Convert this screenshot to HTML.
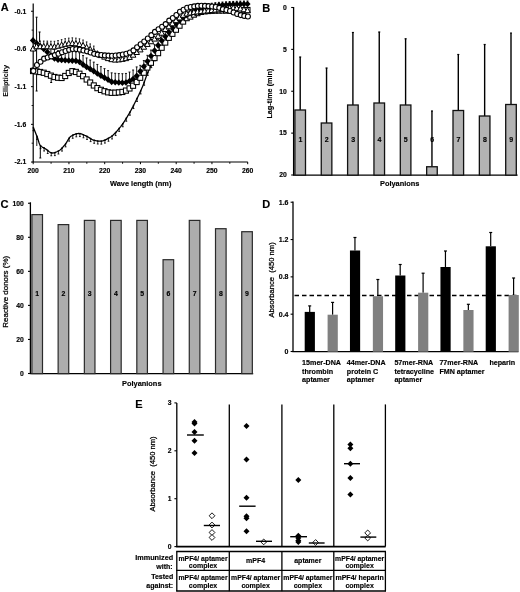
<!DOCTYPE html>
<html><head><meta charset="utf-8"><style>
html,body{margin:0;padding:0;background:#fff;}
svg{display:block;font-family:"Liberation Sans", sans-serif;filter:blur(0.3px);}
text{stroke:#000;stroke-width:0.15px;}
text[font-weight="normal"]{stroke-width:0.26px;}
</style></head><body>
<svg width="520" height="592" viewBox="0 0 520 592">
<rect width="520" height="592" fill="#fff"/>
<text x="0.80" y="11.00" font-size="11" font-weight="bold" text-anchor="start" fill="#000" >A</text>
<line x1="33.20" y1="3.50" x2="33.20" y2="162.00" stroke="#000" stroke-width="1.2" />
<line x1="32.60" y1="162.00" x2="247.80" y2="162.00" stroke="#000" stroke-width="1.2" />
<line x1="31.00" y1="11.25" x2="33.20" y2="11.25" stroke="#000" stroke-width="1.0" />
<text x="26.20" y="13.55" font-size="6.8" font-weight="bold" text-anchor="end" fill="#000" >-0.1</text>
<line x1="31.00" y1="48.95" x2="33.20" y2="48.95" stroke="#000" stroke-width="1.0" />
<text x="26.20" y="51.25" font-size="6.8" font-weight="bold" text-anchor="end" fill="#000" >-0.6</text>
<line x1="31.00" y1="86.65" x2="33.20" y2="86.65" stroke="#000" stroke-width="1.0" />
<text x="26.20" y="88.95" font-size="6.8" font-weight="bold" text-anchor="end" fill="#000" >-1.1</text>
<line x1="31.00" y1="124.35" x2="33.20" y2="124.35" stroke="#000" stroke-width="1.0" />
<text x="26.20" y="126.65" font-size="6.8" font-weight="bold" text-anchor="end" fill="#000" >-1.6</text>
<line x1="31.00" y1="162.05" x2="33.20" y2="162.05" stroke="#000" stroke-width="1.0" />
<text x="26.20" y="164.35" font-size="6.8" font-weight="bold" text-anchor="end" fill="#000" >-2.1</text>
<line x1="31.60" y1="30.10" x2="33.20" y2="30.10" stroke="#000" stroke-width="0.9" />
<line x1="31.60" y1="67.80" x2="33.20" y2="67.80" stroke="#000" stroke-width="0.9" />
<line x1="31.60" y1="105.50" x2="33.20" y2="105.50" stroke="#000" stroke-width="0.9" />
<line x1="31.60" y1="143.20" x2="33.20" y2="143.20" stroke="#000" stroke-width="0.9" />
<line x1="33.20" y1="162.00" x2="33.20" y2="164.20" stroke="#000" stroke-width="1.0" />
<text x="33.20" y="172.80" font-size="6.8" font-weight="bold" text-anchor="middle" fill="#000" >200</text>
<line x1="68.95" y1="162.00" x2="68.95" y2="164.20" stroke="#000" stroke-width="1.0" />
<text x="68.95" y="172.80" font-size="6.8" font-weight="bold" text-anchor="middle" fill="#000" >210</text>
<line x1="104.70" y1="162.00" x2="104.70" y2="164.20" stroke="#000" stroke-width="1.0" />
<text x="104.70" y="172.80" font-size="6.8" font-weight="bold" text-anchor="middle" fill="#000" >220</text>
<line x1="140.45" y1="162.00" x2="140.45" y2="164.20" stroke="#000" stroke-width="1.0" />
<text x="140.45" y="172.80" font-size="6.8" font-weight="bold" text-anchor="middle" fill="#000" >230</text>
<line x1="176.20" y1="162.00" x2="176.20" y2="164.20" stroke="#000" stroke-width="1.0" />
<text x="176.20" y="172.80" font-size="6.8" font-weight="bold" text-anchor="middle" fill="#000" >240</text>
<line x1="211.95" y1="162.00" x2="211.95" y2="164.20" stroke="#000" stroke-width="1.0" />
<text x="211.95" y="172.80" font-size="6.8" font-weight="bold" text-anchor="middle" fill="#000" >250</text>
<line x1="247.70" y1="162.00" x2="247.70" y2="164.20" stroke="#000" stroke-width="1.0" />
<text x="247.70" y="172.80" font-size="6.8" font-weight="bold" text-anchor="middle" fill="#000" >260</text>
<line x1="51.08" y1="162.00" x2="51.08" y2="163.80" stroke="#000" stroke-width="0.9" />
<line x1="86.83" y1="162.00" x2="86.83" y2="163.80" stroke="#000" stroke-width="0.9" />
<line x1="122.58" y1="162.00" x2="122.58" y2="163.80" stroke="#000" stroke-width="0.9" />
<line x1="158.32" y1="162.00" x2="158.32" y2="163.80" stroke="#000" stroke-width="0.9" />
<line x1="194.07" y1="162.00" x2="194.07" y2="163.80" stroke="#000" stroke-width="0.9" />
<line x1="229.82" y1="162.00" x2="229.82" y2="163.80" stroke="#000" stroke-width="0.9" />
<text x="140.70" y="185.60" font-size="7.4" font-weight="bold" text-anchor="middle" fill="#000" textLength="61.4" lengthAdjust="spacingAndGlyphs" >Wave length (nm)</text>
<text transform="translate(8.4,80.9) rotate(-90)" font-size="7.15" font-weight="bold" text-anchor="middle" text-rendering="geometricPrecision" style="stroke-width:0.05px">Ellipticity</text>
<path d="M33.40,127.70 L33.90,128.86 L34.40,130.04 L34.90,131.25 L35.40,132.47 L35.90,133.70 L36.40,134.96 L36.90,136.23 L37.40,137.54 L37.90,139.04 L38.40,140.65 L38.90,142.23 L39.40,143.66 L39.90,144.80 L40.40,145.51 L40.90,146.00 L41.40,146.42 L41.90,146.78 L42.40,147.09 L42.90,147.37 L43.40,147.63 L43.90,147.88 L44.40,148.15 L44.90,148.44 L45.40,148.76 L45.90,149.11 L46.40,149.49 L46.90,149.87 L47.40,150.27 L47.90,150.66 L48.40,151.05 L48.90,151.42 L49.40,151.77 L49.90,152.09 L50.40,152.37 L50.90,152.61 L51.40,152.80 L51.90,152.93 L52.40,152.99 L52.90,152.99 L53.40,152.95 L53.90,152.86 L54.40,152.75 L54.90,152.60 L55.40,152.42 L55.90,152.22 L56.40,152.01 L56.90,151.77 L57.40,151.53 L57.90,151.27 L58.40,151.01 L58.90,150.75 L59.40,150.44 L59.90,150.08 L60.40,149.67 L60.90,149.22 L61.40,148.72 L61.90,148.20 L62.40,147.65 L62.90,147.08 L63.40,146.49 L63.90,145.90 L64.40,145.31 L64.90,144.72 L65.40,144.10 L65.90,143.40 L66.40,142.62 L66.90,141.80 L67.40,140.96 L67.90,140.12 L68.40,139.30 L68.90,138.51 L69.40,137.80 L69.90,137.17 L70.40,136.65 L70.90,136.26 L71.40,135.97 L71.90,135.70 L72.40,135.43 L72.90,135.18 L73.40,134.93 L73.90,134.71 L74.40,134.49 L74.90,134.29 L75.40,134.12 L75.90,133.96 L76.40,133.82 L76.90,133.70 L77.40,133.61 L77.90,133.55 L78.40,133.51 L78.90,133.50 L79.40,133.53 L79.90,133.59 L80.40,133.69 L80.90,133.82 L81.40,133.97 L81.90,134.15 L82.40,134.34 L82.90,134.55 L83.40,134.77 L83.90,135.00 L84.40,135.24 L84.90,135.47 L85.40,135.71 L85.90,135.94 L86.40,136.16 L86.90,136.38 L87.40,136.63 L87.90,136.91 L88.40,137.20 L88.90,137.51 L89.40,137.83 L89.90,138.15 L90.40,138.47 L90.90,138.78 L91.40,139.09 L91.90,139.37 L92.40,139.63 L92.90,139.86 L93.40,140.06 L93.90,140.22 L94.40,140.35 L94.90,140.46 L95.40,140.57 L95.90,140.67 L96.40,140.77 L96.90,140.86 L97.40,140.95 L97.90,141.02 L98.40,141.08 L98.90,141.14 L99.40,141.17 L99.90,141.19 L100.40,141.20 L100.90,141.18 L101.40,141.13 L101.90,141.05 L102.40,140.94 L102.90,140.81 L103.40,140.66 L103.90,140.48 L104.40,140.29 L104.90,140.08 L105.40,139.85 L105.90,139.61 L106.40,139.36 L106.90,139.10 L107.40,138.83 L107.90,138.55 L108.40,138.27 L108.90,137.99 L109.40,137.70 L109.90,137.41 L110.40,137.12 L110.90,136.81 L111.40,136.46 L111.90,136.08 L112.40,135.68 L112.90,135.25 L113.40,134.80 L113.90,134.33 L114.40,133.83 L114.90,133.32 L115.40,132.80 L115.90,132.25 L116.40,131.70 L116.90,131.13 L117.40,130.55 L117.90,129.96 L118.40,129.37 L118.90,128.77 L119.40,128.17 L119.90,127.56 L120.40,126.96 L120.90,126.33 L121.40,125.67 L121.90,125.00 L122.40,124.30 L122.90,123.59 L123.40,122.85 L123.90,122.10 L124.40,121.33 L124.90,120.55 L125.40,119.76 L125.90,118.96 L126.40,118.15 L126.90,117.33 L127.40,116.50 L127.90,115.67 L128.40,114.83 L128.90,113.99 L129.40,113.12 L129.90,112.24 L130.40,111.35 L130.90,110.44 L131.40,109.52 L131.90,108.59 L132.40,107.65 L132.90,106.69 L133.40,105.73 L133.90,104.76 L134.40,103.78 L134.90,102.79 L135.40,101.80 L135.90,100.80 L136.40,99.80 L136.90,98.79 L137.40,97.78 L137.90,96.76 L138.40,95.73 L138.90,94.69 L139.40,93.63 L139.90,92.57 L140.40,91.48 L140.90,90.38 L141.40,89.25 L141.90,88.11 L142.40,86.94 L142.90,85.73 L143.40,84.45 L143.90,83.12 L144.40,81.75 L144.90,80.36 L145.40,78.95 L145.90,77.54 L146.40,76.15 L146.90,74.78 L147.40,73.45 L147.90,72.17 L148.40,70.96 L148.90,69.82 L149.40,68.72 L149.90,67.64 L150.40,66.60 L150.90,65.58 L151.40,64.58 L151.90,63.60 L152.40,62.63 L152.90,61.68 L153.40,60.73 L153.90,59.79 L154.40,58.86 L154.90,57.93 L155.40,56.99 L155.90,56.06 L156.40,55.13 L156.90,54.20 L157.40,53.28 L157.90,52.37 L158.40,51.46 L158.90,50.57 L159.40,49.69 L159.90,48.83 L160.40,47.98 L160.90,47.15 L161.40,46.34 L161.90,45.56 L162.40,44.79 L162.90,44.05 L163.40,43.34 L163.90,42.65 L164.40,41.97 L164.90,41.31 L165.40,40.67 L165.90,40.04 L166.40,39.42 L166.90,38.81 L167.40,38.21 L167.90,37.61 L168.40,37.01 L168.90,36.41 L169.40,35.82 L169.90,35.22 L170.40,34.61 L170.90,34.00 L171.40,33.38 L171.90,32.75 L172.40,32.11 L172.90,31.47 L173.40,30.82 L173.90,30.18 L174.40,29.53 L174.90,28.89 L175.40,28.26 L175.90,27.63 L176.40,27.01 L176.90,26.40 L177.40,25.81 L177.90,25.23 L178.40,24.66 L178.90,24.12 L179.40,23.60 L179.90,23.10 L180.40,22.62 L180.90,22.14 L181.40,21.67 L181.90,21.21 L182.40,20.75 L182.90,20.30 L183.40,19.86 L183.90,19.43 L184.40,19.01 L184.90,18.59 L185.40,18.19 L185.90,17.80 L186.40,17.41 L186.90,17.04 L187.40,16.68 L187.90,16.33 L188.40,15.99 L188.90,15.67 L189.40,15.36 L189.90,15.06 L190.40,14.77 L190.90,14.48 L191.40,14.20 L191.90,13.92 L192.40,13.64 L192.90,13.37 L193.40,13.10 L193.90,12.84 L194.40,12.59 L194.90,12.34 L195.40,12.11 L195.90,11.88 L196.40,11.67 L196.90,11.46 L197.40,11.27 L197.90,11.09 L198.40,10.93 L198.90,10.78 L199.40,10.64 L199.90,10.52 L200.40,10.42 L200.90,10.31 L201.40,10.21 L201.90,10.11 L202.40,10.01 L202.90,9.92 L203.40,9.82 L203.90,9.73 L204.40,9.64 L204.90,9.56 L205.40,9.47 L205.90,9.39 L206.40,9.32 L206.90,9.24 L207.40,9.17 L207.90,9.10 L208.40,9.04 L208.90,8.97 L209.40,8.91 L209.90,8.86 L210.40,8.81 L210.90,8.76 L211.40,8.71 L211.90,8.67 L212.40,8.63 L212.90,8.60 L213.40,8.57 L213.90,8.54 L214.40,8.52 L214.90,8.50 L215.40,8.49 L215.90,8.47 L216.40,8.46 L216.90,8.44 L217.40,8.43 L217.90,8.42 L218.40,8.40 L218.90,8.39 L219.40,8.38 L219.90,8.36 L220.40,8.35 L220.90,8.34 L221.40,8.33 L221.90,8.32 L222.40,8.30 L222.90,8.29 L223.40,8.28 L223.90,8.27 L224.40,8.26 L224.90,8.25 L225.40,8.24 L225.90,8.23 L226.40,8.22 L226.90,8.21 L227.40,8.20 L227.90,8.19 L228.40,8.18 L228.90,8.17 L229.40,8.16 L229.90,8.15 L230.40,8.15 L230.90,8.14 L231.40,8.13 L231.90,8.12 L232.40,8.12 L232.90,8.11 L233.40,8.10 L233.90,8.09 L234.40,8.09 L234.90,8.08 L235.40,8.08 L235.90,8.07 L236.40,8.07 L236.90,8.06 L237.40,8.05 L237.90,8.05 L238.40,8.05 L238.90,8.04 L239.40,8.04 L239.90,8.03 L240.40,8.03 L240.90,8.03 L241.40,8.02 L241.90,8.02 L242.40,8.02 L242.90,8.01 L243.40,8.01 L243.90,8.01 L244.40,8.01 L244.90,8.01 L245.40,8.00 L245.90,8.00 L246.40,8.00 L246.90,8.00 L247.40,8.00 L247.90,8.00 L248.40,8.00" fill="none" stroke="#000" stroke-width="1.3"/>
<line x1="33.40" y1="127.70" x2="33.40" y2="130.70" stroke="#000" stroke-width="0.8" />
<line x1="32.50" y1="130.70" x2="34.30" y2="130.70" stroke="#000" stroke-width="0.9" />
<rect x="32.70" y="127.00" width="1.4" height="1.4" fill="#000"/>
<line x1="36.98" y1="136.42" x2="36.98" y2="139.42" stroke="#000" stroke-width="0.8" />
<line x1="36.08" y1="139.42" x2="37.88" y2="139.42" stroke="#000" stroke-width="0.9" />
<rect x="36.27" y="135.72" width="1.4" height="1.4" fill="#000"/>
<line x1="40.55" y1="145.67" x2="40.55" y2="148.67" stroke="#000" stroke-width="0.8" />
<line x1="39.65" y1="148.67" x2="41.45" y2="148.67" stroke="#000" stroke-width="0.9" />
<rect x="39.85" y="144.97" width="1.4" height="1.4" fill="#000"/>
<line x1="44.13" y1="148.00" x2="44.13" y2="151.00" stroke="#000" stroke-width="0.8" />
<line x1="43.23" y1="151.00" x2="45.03" y2="151.00" stroke="#000" stroke-width="0.9" />
<rect x="43.43" y="147.30" width="1.4" height="1.4" fill="#000"/>
<line x1="47.70" y1="150.50" x2="47.70" y2="153.50" stroke="#000" stroke-width="0.8" />
<line x1="46.80" y1="153.50" x2="48.60" y2="153.50" stroke="#000" stroke-width="0.9" />
<rect x="47.00" y="149.80" width="1.4" height="1.4" fill="#000"/>
<line x1="51.28" y1="152.76" x2="51.28" y2="155.76" stroke="#000" stroke-width="0.8" />
<line x1="50.38" y1="155.76" x2="52.18" y2="155.76" stroke="#000" stroke-width="0.9" />
<rect x="50.58" y="152.06" width="1.4" height="1.4" fill="#000"/>
<line x1="54.85" y1="152.61" x2="54.85" y2="155.61" stroke="#000" stroke-width="0.8" />
<line x1="53.95" y1="155.61" x2="55.75" y2="155.61" stroke="#000" stroke-width="0.9" />
<rect x="54.15" y="151.91" width="1.4" height="1.4" fill="#000"/>
<line x1="58.43" y1="151.00" x2="58.43" y2="154.00" stroke="#000" stroke-width="0.8" />
<line x1="57.53" y1="154.00" x2="59.33" y2="154.00" stroke="#000" stroke-width="0.9" />
<rect x="57.73" y="150.30" width="1.4" height="1.4" fill="#000"/>
<line x1="62.00" y1="148.09" x2="62.00" y2="151.09" stroke="#000" stroke-width="0.8" />
<line x1="61.10" y1="151.09" x2="62.90" y2="151.09" stroke="#000" stroke-width="0.9" />
<rect x="61.30" y="147.39" width="1.4" height="1.4" fill="#000"/>
<line x1="65.58" y1="143.86" x2="65.58" y2="146.86" stroke="#000" stroke-width="0.8" />
<line x1="64.68" y1="146.86" x2="66.48" y2="146.86" stroke="#000" stroke-width="0.9" />
<rect x="64.88" y="143.16" width="1.4" height="1.4" fill="#000"/>
<line x1="69.15" y1="138.15" x2="69.15" y2="141.15" stroke="#000" stroke-width="0.8" />
<line x1="68.25" y1="141.15" x2="70.05" y2="141.15" stroke="#000" stroke-width="0.9" />
<rect x="68.45" y="137.45" width="1.4" height="1.4" fill="#000"/>
<line x1="72.73" y1="135.27" x2="72.73" y2="138.27" stroke="#000" stroke-width="0.8" />
<line x1="71.83" y1="138.27" x2="73.63" y2="138.27" stroke="#000" stroke-width="0.9" />
<rect x="72.03" y="134.57" width="1.4" height="1.4" fill="#000"/>
<line x1="76.30" y1="133.84" x2="76.30" y2="136.84" stroke="#000" stroke-width="0.8" />
<line x1="75.40" y1="136.84" x2="77.20" y2="136.84" stroke="#000" stroke-width="0.9" />
<rect x="75.60" y="133.14" width="1.4" height="1.4" fill="#000"/>
<line x1="79.88" y1="133.59" x2="79.88" y2="136.59" stroke="#000" stroke-width="0.8" />
<line x1="78.98" y1="136.59" x2="80.78" y2="136.59" stroke="#000" stroke-width="0.9" />
<rect x="79.18" y="132.89" width="1.4" height="1.4" fill="#000"/>
<line x1="83.45" y1="134.79" x2="83.45" y2="137.79" stroke="#000" stroke-width="0.8" />
<line x1="82.55" y1="137.79" x2="84.35" y2="137.79" stroke="#000" stroke-width="0.9" />
<rect x="82.75" y="134.09" width="1.4" height="1.4" fill="#000"/>
<line x1="87.03" y1="136.44" x2="87.03" y2="139.44" stroke="#000" stroke-width="0.8" />
<line x1="86.13" y1="139.44" x2="87.93" y2="139.44" stroke="#000" stroke-width="0.9" />
<rect x="86.33" y="135.74" width="1.4" height="1.4" fill="#000"/>
<line x1="90.60" y1="138.60" x2="90.60" y2="141.60" stroke="#000" stroke-width="0.8" />
<line x1="89.70" y1="141.60" x2="91.50" y2="141.60" stroke="#000" stroke-width="0.9" />
<rect x="89.90" y="137.90" width="1.4" height="1.4" fill="#000"/>
<line x1="94.18" y1="140.29" x2="94.18" y2="143.29" stroke="#000" stroke-width="0.8" />
<line x1="93.28" y1="143.29" x2="95.08" y2="143.29" stroke="#000" stroke-width="0.9" />
<rect x="93.48" y="139.59" width="1.4" height="1.4" fill="#000"/>
<line x1="97.75" y1="141.00" x2="97.75" y2="144.00" stroke="#000" stroke-width="0.8" />
<line x1="96.85" y1="144.00" x2="98.65" y2="144.00" stroke="#000" stroke-width="0.9" />
<rect x="97.05" y="140.30" width="1.4" height="1.4" fill="#000"/>
<line x1="101.33" y1="141.14" x2="101.33" y2="144.14" stroke="#000" stroke-width="0.8" />
<line x1="100.43" y1="144.14" x2="102.23" y2="144.14" stroke="#000" stroke-width="0.9" />
<rect x="100.63" y="140.44" width="1.4" height="1.4" fill="#000"/>
<line x1="104.90" y1="140.08" x2="104.90" y2="143.08" stroke="#000" stroke-width="0.8" />
<line x1="104.00" y1="143.08" x2="105.80" y2="143.08" stroke="#000" stroke-width="0.9" />
<rect x="104.20" y="139.38" width="1.4" height="1.4" fill="#000"/>
<line x1="108.48" y1="138.23" x2="108.48" y2="141.23" stroke="#000" stroke-width="0.8" />
<line x1="107.58" y1="141.23" x2="109.38" y2="141.23" stroke="#000" stroke-width="0.9" />
<rect x="107.78" y="137.53" width="1.4" height="1.4" fill="#000"/>
<line x1="112.05" y1="135.96" x2="112.05" y2="138.96" stroke="#000" stroke-width="0.8" />
<line x1="111.15" y1="138.96" x2="112.95" y2="138.96" stroke="#000" stroke-width="0.9" />
<rect x="111.35" y="135.26" width="1.4" height="1.4" fill="#000"/>
<line x1="115.63" y1="132.55" x2="115.63" y2="135.55" stroke="#000" stroke-width="0.8" />
<line x1="114.73" y1="135.55" x2="116.53" y2="135.55" stroke="#000" stroke-width="0.9" />
<rect x="114.93" y="131.85" width="1.4" height="1.4" fill="#000"/>
<line x1="119.20" y1="128.41" x2="119.20" y2="131.41" stroke="#000" stroke-width="0.8" />
<line x1="118.30" y1="131.41" x2="120.10" y2="131.41" stroke="#000" stroke-width="0.9" />
<rect x="118.50" y="127.71" width="1.4" height="1.4" fill="#000"/>
<line x1="122.78" y1="123.77" x2="122.78" y2="126.77" stroke="#000" stroke-width="0.8" />
<line x1="121.88" y1="126.77" x2="123.68" y2="126.77" stroke="#000" stroke-width="0.9" />
<rect x="122.08" y="123.07" width="1.4" height="1.4" fill="#000"/>
<line x1="126.35" y1="118.23" x2="126.35" y2="121.23" stroke="#000" stroke-width="0.8" />
<line x1="125.45" y1="121.23" x2="127.25" y2="121.23" stroke="#000" stroke-width="0.9" />
<rect x="125.65" y="117.53" width="1.4" height="1.4" fill="#000"/>
<line x1="129.93" y1="112.20" x2="129.93" y2="115.20" stroke="#000" stroke-width="0.8" />
<line x1="129.03" y1="115.20" x2="130.83" y2="115.20" stroke="#000" stroke-width="0.9" />
<rect x="129.23" y="111.50" width="1.4" height="1.4" fill="#000"/>
<line x1="133.50" y1="105.54" x2="133.50" y2="108.54" stroke="#000" stroke-width="0.8" />
<line x1="132.60" y1="108.54" x2="134.40" y2="108.54" stroke="#000" stroke-width="0.9" />
<rect x="132.80" y="104.84" width="1.4" height="1.4" fill="#000"/>
<line x1="137.08" y1="98.44" x2="137.08" y2="101.44" stroke="#000" stroke-width="0.8" />
<line x1="136.18" y1="101.44" x2="137.98" y2="101.44" stroke="#000" stroke-width="0.9" />
<rect x="136.38" y="97.74" width="1.4" height="1.4" fill="#000"/>
<line x1="140.65" y1="90.93" x2="140.65" y2="93.93" stroke="#000" stroke-width="0.8" />
<line x1="139.75" y1="93.93" x2="141.55" y2="93.93" stroke="#000" stroke-width="0.9" />
<rect x="139.95" y="90.23" width="1.4" height="1.4" fill="#000"/>
<line x1="144.23" y1="82.24" x2="144.23" y2="85.24" stroke="#000" stroke-width="0.8" />
<line x1="143.33" y1="85.24" x2="145.13" y2="85.24" stroke="#000" stroke-width="0.9" />
<rect x="143.53" y="81.54" width="1.4" height="1.4" fill="#000"/>
<line x1="147.80" y1="72.42" x2="147.80" y2="75.42" stroke="#000" stroke-width="0.8" />
<line x1="146.90" y1="75.42" x2="148.70" y2="75.42" stroke="#000" stroke-width="0.9" />
<rect x="147.10" y="71.72" width="1.4" height="1.4" fill="#000"/>
<line x1="151.38" y1="64.63" x2="151.38" y2="67.63" stroke="#000" stroke-width="0.8" />
<line x1="150.48" y1="67.63" x2="152.28" y2="67.63" stroke="#000" stroke-width="0.9" />
<rect x="150.68" y="63.93" width="1.4" height="1.4" fill="#000"/>
<line x1="154.95" y1="57.83" x2="154.95" y2="60.83" stroke="#000" stroke-width="0.8" />
<line x1="154.05" y1="60.83" x2="155.85" y2="60.83" stroke="#000" stroke-width="0.9" />
<rect x="154.25" y="57.13" width="1.4" height="1.4" fill="#000"/>
<line x1="158.53" y1="51.24" x2="158.53" y2="54.24" stroke="#000" stroke-width="0.8" />
<line x1="157.63" y1="54.24" x2="159.43" y2="54.24" stroke="#000" stroke-width="0.9" />
<rect x="157.83" y="50.54" width="1.4" height="1.4" fill="#000"/>
<line x1="162.10" y1="45.25" x2="162.10" y2="48.25" stroke="#000" stroke-width="0.8" />
<line x1="161.20" y1="48.25" x2="163.00" y2="48.25" stroke="#000" stroke-width="0.9" />
<rect x="161.40" y="44.55" width="1.4" height="1.4" fill="#000"/>
<line x1="165.68" y1="40.32" x2="165.68" y2="43.32" stroke="#000" stroke-width="0.8" />
<line x1="164.78" y1="43.32" x2="166.58" y2="43.32" stroke="#000" stroke-width="0.9" />
<rect x="164.98" y="39.62" width="1.4" height="1.4" fill="#000"/>
<line x1="169.25" y1="36.00" x2="169.25" y2="39.00" stroke="#000" stroke-width="0.8" />
<line x1="168.35" y1="39.00" x2="170.15" y2="39.00" stroke="#000" stroke-width="0.9" />
<rect x="168.55" y="35.30" width="1.4" height="1.4" fill="#000"/>
<line x1="172.83" y1="31.56" x2="172.83" y2="34.56" stroke="#000" stroke-width="0.8" />
<line x1="171.93" y1="34.56" x2="173.73" y2="34.56" stroke="#000" stroke-width="0.9" />
<rect x="172.13" y="30.86" width="1.4" height="1.4" fill="#000"/>
<line x1="176.40" y1="27.01" x2="176.40" y2="30.01" stroke="#000" stroke-width="0.8" />
<line x1="175.50" y1="30.01" x2="177.30" y2="30.01" stroke="#000" stroke-width="0.9" />
<rect x="175.70" y="26.31" width="1.4" height="1.4" fill="#000"/>
<line x1="179.98" y1="23.02" x2="179.98" y2="26.02" stroke="#000" stroke-width="0.8" />
<line x1="179.08" y1="26.02" x2="180.88" y2="26.02" stroke="#000" stroke-width="0.9" />
<rect x="179.28" y="22.32" width="1.4" height="1.4" fill="#000"/>
<line x1="183.55" y1="19.73" x2="183.55" y2="22.73" stroke="#000" stroke-width="0.8" />
<line x1="182.65" y1="22.73" x2="184.45" y2="22.73" stroke="#000" stroke-width="0.9" />
<rect x="182.85" y="19.03" width="1.4" height="1.4" fill="#000"/>
<line x1="187.13" y1="16.88" x2="187.13" y2="19.88" stroke="#000" stroke-width="0.8" />
<line x1="186.23" y1="19.88" x2="188.03" y2="19.88" stroke="#000" stroke-width="0.9" />
<rect x="186.43" y="16.18" width="1.4" height="1.4" fill="#000"/>
<line x1="190.70" y1="14.60" x2="190.70" y2="17.60" stroke="#000" stroke-width="0.8" />
<line x1="189.80" y1="17.60" x2="191.60" y2="17.60" stroke="#000" stroke-width="0.9" />
<rect x="190.00" y="13.90" width="1.4" height="1.4" fill="#000"/>
<line x1="194.28" y1="12.65" x2="194.28" y2="15.65" stroke="#000" stroke-width="0.8" />
<line x1="193.38" y1="15.65" x2="195.18" y2="15.65" stroke="#000" stroke-width="0.9" />
<rect x="193.58" y="11.95" width="1.4" height="1.4" fill="#000"/>
<line x1="197.85" y1="11.11" x2="197.85" y2="14.11" stroke="#000" stroke-width="0.8" />
<line x1="196.95" y1="14.11" x2="198.75" y2="14.11" stroke="#000" stroke-width="0.9" />
<rect x="197.15" y="10.41" width="1.4" height="1.4" fill="#000"/>
<line x1="201.43" y1="10.20" x2="201.43" y2="13.20" stroke="#000" stroke-width="0.8" />
<line x1="200.53" y1="13.20" x2="202.33" y2="13.20" stroke="#000" stroke-width="0.9" />
<rect x="200.73" y="9.50" width="1.4" height="1.4" fill="#000"/>
<line x1="205.00" y1="9.54" x2="205.00" y2="12.54" stroke="#000" stroke-width="0.8" />
<line x1="204.10" y1="12.54" x2="205.90" y2="12.54" stroke="#000" stroke-width="0.9" />
<rect x="204.30" y="8.84" width="1.4" height="1.4" fill="#000"/>
<line x1="208.58" y1="9.01" x2="208.58" y2="12.01" stroke="#000" stroke-width="0.8" />
<line x1="207.68" y1="12.01" x2="209.48" y2="12.01" stroke="#000" stroke-width="0.9" />
<rect x="207.88" y="8.31" width="1.4" height="1.4" fill="#000"/>
<line x1="212.15" y1="8.65" x2="212.15" y2="11.65" stroke="#000" stroke-width="0.8" />
<line x1="211.25" y1="11.65" x2="213.05" y2="11.65" stroke="#000" stroke-width="0.9" />
<rect x="211.45" y="7.95" width="1.4" height="1.4" fill="#000"/>
<line x1="215.73" y1="8.48" x2="215.73" y2="11.48" stroke="#000" stroke-width="0.8" />
<line x1="214.83" y1="11.48" x2="216.63" y2="11.48" stroke="#000" stroke-width="0.9" />
<rect x="215.03" y="7.78" width="1.4" height="1.4" fill="#000"/>
<line x1="219.30" y1="8.38" x2="219.30" y2="11.38" stroke="#000" stroke-width="0.8" />
<line x1="218.40" y1="11.38" x2="220.20" y2="11.38" stroke="#000" stroke-width="0.9" />
<rect x="218.60" y="7.68" width="1.4" height="1.4" fill="#000"/>
<line x1="222.88" y1="8.29" x2="222.88" y2="11.29" stroke="#000" stroke-width="0.8" />
<line x1="221.98" y1="11.29" x2="223.78" y2="11.29" stroke="#000" stroke-width="0.9" />
<rect x="222.18" y="7.59" width="1.4" height="1.4" fill="#000"/>
<line x1="226.45" y1="8.22" x2="226.45" y2="11.22" stroke="#000" stroke-width="0.8" />
<line x1="225.55" y1="11.22" x2="227.35" y2="11.22" stroke="#000" stroke-width="0.9" />
<rect x="225.75" y="7.52" width="1.4" height="1.4" fill="#000"/>
<line x1="230.03" y1="8.15" x2="230.03" y2="11.15" stroke="#000" stroke-width="0.8" />
<line x1="229.13" y1="11.15" x2="230.93" y2="11.15" stroke="#000" stroke-width="0.9" />
<rect x="229.33" y="7.45" width="1.4" height="1.4" fill="#000"/>
<line x1="233.60" y1="8.10" x2="233.60" y2="11.10" stroke="#000" stroke-width="0.8" />
<line x1="232.70" y1="11.10" x2="234.50" y2="11.10" stroke="#000" stroke-width="0.9" />
<rect x="232.90" y="7.40" width="1.4" height="1.4" fill="#000"/>
<line x1="237.18" y1="8.06" x2="237.18" y2="11.06" stroke="#000" stroke-width="0.8" />
<line x1="236.28" y1="11.06" x2="238.08" y2="11.06" stroke="#000" stroke-width="0.9" />
<rect x="236.48" y="7.36" width="1.4" height="1.4" fill="#000"/>
<line x1="240.75" y1="8.03" x2="240.75" y2="11.03" stroke="#000" stroke-width="0.8" />
<line x1="239.85" y1="11.03" x2="241.65" y2="11.03" stroke="#000" stroke-width="0.9" />
<rect x="240.05" y="7.33" width="1.4" height="1.4" fill="#000"/>
<line x1="244.33" y1="8.01" x2="244.33" y2="11.01" stroke="#000" stroke-width="0.8" />
<line x1="243.43" y1="11.01" x2="245.23" y2="11.01" stroke="#000" stroke-width="0.9" />
<rect x="243.63" y="7.31" width="1.4" height="1.4" fill="#000"/>
<line x1="247.90" y1="8.00" x2="247.90" y2="11.00" stroke="#000" stroke-width="0.8" />
<line x1="247.00" y1="11.00" x2="248.80" y2="11.00" stroke="#000" stroke-width="0.9" />
<rect x="247.20" y="7.30" width="1.4" height="1.4" fill="#000"/>
<line x1="36.80" y1="137.00" x2="36.80" y2="146.00" stroke="#000" stroke-width="0.9" />
<line x1="40.30" y1="145.00" x2="40.30" y2="158.00" stroke="#000" stroke-width="1.0" />
<line x1="39.30" y1="158.00" x2="41.30" y2="158.00" stroke="#000" stroke-width="0.9" />
<line x1="47.30" y1="52.05" x2="47.30" y2="43.05" stroke="#000" stroke-width="0.9" />
<line x1="46.30" y1="43.05" x2="48.30" y2="43.05" stroke="#000" stroke-width="0.9" />
<line x1="50.88" y1="55.58" x2="50.88" y2="46.58" stroke="#000" stroke-width="0.9" />
<line x1="49.88" y1="46.58" x2="51.88" y2="46.58" stroke="#000" stroke-width="0.9" />
<line x1="54.45" y1="58.50" x2="54.45" y2="49.50" stroke="#000" stroke-width="0.9" />
<line x1="53.45" y1="49.50" x2="55.45" y2="49.50" stroke="#000" stroke-width="0.9" />
<line x1="58.03" y1="59.71" x2="58.03" y2="50.71" stroke="#000" stroke-width="0.9" />
<line x1="57.03" y1="50.71" x2="59.03" y2="50.71" stroke="#000" stroke-width="0.9" />
<line x1="61.60" y1="60.06" x2="61.60" y2="51.06" stroke="#000" stroke-width="0.9" />
<line x1="60.60" y1="51.06" x2="62.60" y2="51.06" stroke="#000" stroke-width="0.9" />
<line x1="65.18" y1="60.28" x2="65.18" y2="51.28" stroke="#000" stroke-width="0.9" />
<line x1="64.18" y1="51.28" x2="66.18" y2="51.28" stroke="#000" stroke-width="0.9" />
<line x1="68.75" y1="60.50" x2="68.75" y2="51.50" stroke="#000" stroke-width="0.9" />
<line x1="67.75" y1="51.50" x2="69.75" y2="51.50" stroke="#000" stroke-width="0.9" />
<line x1="72.33" y1="60.65" x2="72.33" y2="51.65" stroke="#000" stroke-width="0.9" />
<line x1="71.33" y1="51.65" x2="73.33" y2="51.65" stroke="#000" stroke-width="0.9" />
<line x1="75.90" y1="60.87" x2="75.90" y2="51.87" stroke="#000" stroke-width="0.9" />
<line x1="74.90" y1="51.87" x2="76.90" y2="51.87" stroke="#000" stroke-width="0.9" />
<line x1="79.48" y1="61.87" x2="79.48" y2="52.87" stroke="#000" stroke-width="0.9" />
<line x1="78.48" y1="52.87" x2="80.48" y2="52.87" stroke="#000" stroke-width="0.9" />
<line x1="83.05" y1="64.59" x2="83.05" y2="55.59" stroke="#000" stroke-width="0.9" />
<line x1="82.05" y1="55.59" x2="84.05" y2="55.59" stroke="#000" stroke-width="0.9" />
<line x1="86.63" y1="66.96" x2="86.63" y2="57.96" stroke="#000" stroke-width="0.9" />
<line x1="85.63" y1="57.96" x2="87.63" y2="57.96" stroke="#000" stroke-width="0.9" />
<line x1="90.20" y1="69.00" x2="90.20" y2="60.00" stroke="#000" stroke-width="0.9" />
<line x1="89.20" y1="60.00" x2="91.20" y2="60.00" stroke="#000" stroke-width="0.9" />
<line x1="93.78" y1="71.13" x2="93.78" y2="62.13" stroke="#000" stroke-width="0.9" />
<line x1="92.78" y1="62.13" x2="94.78" y2="62.13" stroke="#000" stroke-width="0.9" />
<line x1="97.35" y1="73.44" x2="97.35" y2="64.44" stroke="#000" stroke-width="0.9" />
<line x1="96.35" y1="64.44" x2="98.35" y2="64.44" stroke="#000" stroke-width="0.9" />
<line x1="100.93" y1="75.64" x2="100.93" y2="66.64" stroke="#000" stroke-width="0.9" />
<line x1="99.93" y1="66.64" x2="101.93" y2="66.64" stroke="#000" stroke-width="0.9" />
<line x1="104.50" y1="77.65" x2="104.50" y2="68.65" stroke="#000" stroke-width="0.9" />
<line x1="103.50" y1="68.65" x2="105.50" y2="68.65" stroke="#000" stroke-width="0.9" />
<line x1="108.08" y1="79.64" x2="108.08" y2="70.64" stroke="#000" stroke-width="0.9" />
<line x1="107.08" y1="70.64" x2="109.08" y2="70.64" stroke="#000" stroke-width="0.9" />
<line x1="111.65" y1="81.83" x2="111.65" y2="72.83" stroke="#000" stroke-width="0.9" />
<line x1="110.65" y1="72.83" x2="112.65" y2="72.83" stroke="#000" stroke-width="0.9" />
<line x1="115.23" y1="82.28" x2="115.23" y2="73.28" stroke="#000" stroke-width="0.9" />
<line x1="114.23" y1="73.28" x2="116.23" y2="73.28" stroke="#000" stroke-width="0.9" />
<line x1="118.80" y1="82.56" x2="118.80" y2="73.56" stroke="#000" stroke-width="0.9" />
<line x1="117.80" y1="73.56" x2="119.80" y2="73.56" stroke="#000" stroke-width="0.9" />
<line x1="122.38" y1="82.69" x2="122.38" y2="73.69" stroke="#000" stroke-width="0.9" />
<line x1="121.38" y1="73.69" x2="123.38" y2="73.69" stroke="#000" stroke-width="0.9" />
<line x1="125.95" y1="82.44" x2="125.95" y2="73.44" stroke="#000" stroke-width="0.9" />
<line x1="124.95" y1="73.44" x2="126.95" y2="73.44" stroke="#000" stroke-width="0.9" />
<line x1="129.53" y1="81.06" x2="129.53" y2="72.06" stroke="#000" stroke-width="0.9" />
<line x1="128.53" y1="72.06" x2="130.53" y2="72.06" stroke="#000" stroke-width="0.9" />
<line x1="133.10" y1="79.00" x2="133.10" y2="70.00" stroke="#000" stroke-width="0.9" />
<line x1="132.10" y1="70.00" x2="134.10" y2="70.00" stroke="#000" stroke-width="0.9" />
<line x1="136.68" y1="75.92" x2="136.68" y2="66.92" stroke="#000" stroke-width="0.9" />
<line x1="135.68" y1="66.92" x2="137.68" y2="66.92" stroke="#000" stroke-width="0.9" />
<line x1="140.25" y1="71.34" x2="140.25" y2="65.34" stroke="#000" stroke-width="0.9" />
<line x1="139.25" y1="65.34" x2="141.25" y2="65.34" stroke="#000" stroke-width="0.9" />
<line x1="143.83" y1="66.55" x2="143.83" y2="60.55" stroke="#000" stroke-width="0.9" />
<line x1="142.83" y1="60.55" x2="144.83" y2="60.55" stroke="#000" stroke-width="0.9" />
<line x1="147.40" y1="61.34" x2="147.40" y2="55.34" stroke="#000" stroke-width="0.9" />
<line x1="146.40" y1="55.34" x2="148.40" y2="55.34" stroke="#000" stroke-width="0.9" />
<line x1="150.98" y1="56.07" x2="150.98" y2="50.07" stroke="#000" stroke-width="0.9" />
<line x1="149.98" y1="50.07" x2="151.98" y2="50.07" stroke="#000" stroke-width="0.9" />
<line x1="154.55" y1="50.61" x2="154.55" y2="44.61" stroke="#000" stroke-width="0.9" />
<line x1="153.55" y1="44.61" x2="155.55" y2="44.61" stroke="#000" stroke-width="0.9" />
<line x1="158.13" y1="45.36" x2="158.13" y2="39.36" stroke="#000" stroke-width="0.9" />
<line x1="157.13" y1="39.36" x2="159.13" y2="39.36" stroke="#000" stroke-width="0.9" />
<line x1="161.70" y1="40.72" x2="161.70" y2="34.72" stroke="#000" stroke-width="0.9" />
<line x1="160.70" y1="34.72" x2="162.70" y2="34.72" stroke="#000" stroke-width="0.9" />
<line x1="165.28" y1="36.49" x2="165.28" y2="30.49" stroke="#000" stroke-width="0.9" />
<line x1="164.28" y1="30.49" x2="166.28" y2="30.49" stroke="#000" stroke-width="0.9" />
<line x1="168.85" y1="32.33" x2="168.85" y2="26.33" stroke="#000" stroke-width="0.9" />
<line x1="167.85" y1="26.33" x2="169.85" y2="26.33" stroke="#000" stroke-width="0.9" />
<line x1="172.43" y1="28.01" x2="172.43" y2="25.01" stroke="#000" stroke-width="0.9" />
<line x1="171.43" y1="25.01" x2="173.43" y2="25.01" stroke="#000" stroke-width="0.9" />
<line x1="176.00" y1="23.86" x2="176.00" y2="20.86" stroke="#000" stroke-width="0.9" />
<line x1="175.00" y1="20.86" x2="177.00" y2="20.86" stroke="#000" stroke-width="0.9" />
<line x1="179.58" y1="20.35" x2="179.58" y2="17.35" stroke="#000" stroke-width="0.9" />
<line x1="178.58" y1="17.35" x2="180.58" y2="17.35" stroke="#000" stroke-width="0.9" />
<line x1="183.15" y1="17.51" x2="183.15" y2="14.51" stroke="#000" stroke-width="0.9" />
<line x1="182.15" y1="14.51" x2="184.15" y2="14.51" stroke="#000" stroke-width="0.9" />
<line x1="186.73" y1="14.94" x2="186.73" y2="11.94" stroke="#000" stroke-width="0.9" />
<line x1="185.73" y1="11.94" x2="187.73" y2="11.94" stroke="#000" stroke-width="0.9" />
<line x1="190.30" y1="12.72" x2="190.30" y2="9.72" stroke="#000" stroke-width="0.9" />
<line x1="189.30" y1="9.72" x2="191.30" y2="9.72" stroke="#000" stroke-width="0.9" />
<line x1="193.88" y1="10.95" x2="193.88" y2="7.95" stroke="#000" stroke-width="0.9" />
<line x1="192.88" y1="7.95" x2="194.88" y2="7.95" stroke="#000" stroke-width="0.9" />
<line x1="197.45" y1="9.63" x2="197.45" y2="6.63" stroke="#000" stroke-width="0.9" />
<line x1="196.45" y1="6.63" x2="198.45" y2="6.63" stroke="#000" stroke-width="0.9" />
<line x1="201.03" y1="8.51" x2="201.03" y2="5.51" stroke="#000" stroke-width="0.9" />
<line x1="200.03" y1="5.51" x2="202.03" y2="5.51" stroke="#000" stroke-width="0.9" />
<line x1="204.60" y1="7.58" x2="204.60" y2="4.58" stroke="#000" stroke-width="0.9" />
<line x1="203.60" y1="4.58" x2="205.60" y2="4.58" stroke="#000" stroke-width="0.9" />
<line x1="208.18" y1="6.82" x2="208.18" y2="3.82" stroke="#000" stroke-width="0.9" />
<line x1="207.18" y1="3.82" x2="209.18" y2="3.82" stroke="#000" stroke-width="0.9" />
<line x1="211.75" y1="6.22" x2="211.75" y2="3.22" stroke="#000" stroke-width="0.9" />
<line x1="210.75" y1="3.22" x2="212.75" y2="3.22" stroke="#000" stroke-width="0.9" />
<line x1="215.33" y1="5.71" x2="215.33" y2="2.71" stroke="#000" stroke-width="0.9" />
<line x1="214.33" y1="2.71" x2="216.33" y2="2.71" stroke="#000" stroke-width="0.9" />
<line x1="218.90" y1="5.32" x2="218.90" y2="2.32" stroke="#000" stroke-width="0.9" />
<line x1="217.90" y1="2.32" x2="219.90" y2="2.32" stroke="#000" stroke-width="0.9" />
<line x1="222.48" y1="5.06" x2="222.48" y2="2.06" stroke="#000" stroke-width="0.9" />
<line x1="221.48" y1="2.06" x2="223.48" y2="2.06" stroke="#000" stroke-width="0.9" />
<line x1="226.05" y1="4.83" x2="226.05" y2="1.83" stroke="#000" stroke-width="0.9" />
<line x1="225.05" y1="1.83" x2="227.05" y2="1.83" stroke="#000" stroke-width="0.9" />
<line x1="229.63" y1="4.61" x2="229.63" y2="1.61" stroke="#000" stroke-width="0.9" />
<line x1="228.63" y1="1.61" x2="230.63" y2="1.61" stroke="#000" stroke-width="0.9" />
<line x1="233.20" y1="4.42" x2="233.20" y2="1.42" stroke="#000" stroke-width="0.9" />
<line x1="232.20" y1="1.42" x2="234.20" y2="1.42" stroke="#000" stroke-width="0.9" />
<line x1="236.78" y1="4.26" x2="236.78" y2="1.26" stroke="#000" stroke-width="0.9" />
<line x1="235.78" y1="1.26" x2="237.78" y2="1.26" stroke="#000" stroke-width="0.9" />
<line x1="240.35" y1="4.13" x2="240.35" y2="1.13" stroke="#000" stroke-width="0.9" />
<line x1="239.35" y1="1.13" x2="241.35" y2="1.13" stroke="#000" stroke-width="0.9" />
<line x1="243.93" y1="4.04" x2="243.93" y2="1.04" stroke="#000" stroke-width="0.9" />
<line x1="242.93" y1="1.04" x2="244.93" y2="1.04" stroke="#000" stroke-width="0.9" />
<line x1="247.50" y1="4.00" x2="247.50" y2="1.00" stroke="#000" stroke-width="0.9" />
<line x1="246.50" y1="1.00" x2="248.50" y2="1.00" stroke="#000" stroke-width="0.9" />
<line x1="36.60" y1="17.20" x2="36.60" y2="91.00" stroke="#000" stroke-width="1.0" />
<line x1="35.60" y1="17.20" x2="37.60" y2="17.20" stroke="#000" stroke-width="1.0" />
<line x1="35.60" y1="91.00" x2="37.60" y2="91.00" stroke="#000" stroke-width="1.0" />
<line x1="39.60" y1="32.00" x2="39.60" y2="42.00" stroke="#000" stroke-width="1.0" />
<line x1="38.60" y1="32.00" x2="40.60" y2="32.00" stroke="#000" stroke-width="1.0" />
<line x1="51.20" y1="74.00" x2="51.20" y2="82.50" stroke="#000" stroke-width="1.0" />
<line x1="50.20" y1="82.50" x2="52.20" y2="82.50" stroke="#000" stroke-width="1.0" />
<line x1="36.58" y1="44.58" x2="36.58" y2="41.08" stroke="#000" stroke-width="0.8" />
<line x1="35.78" y1="41.08" x2="37.38" y2="41.08" stroke="#000" stroke-width="0.8" />
<line x1="40.15" y1="44.50" x2="40.15" y2="41.00" stroke="#000" stroke-width="0.8" />
<line x1="39.35" y1="41.00" x2="40.95" y2="41.00" stroke="#000" stroke-width="0.8" />
<line x1="43.73" y1="44.50" x2="43.73" y2="41.00" stroke="#000" stroke-width="0.8" />
<line x1="42.93" y1="41.00" x2="44.53" y2="41.00" stroke="#000" stroke-width="0.8" />
<line x1="47.30" y1="44.55" x2="47.30" y2="41.05" stroke="#000" stroke-width="0.8" />
<line x1="46.50" y1="41.05" x2="48.10" y2="41.05" stroke="#000" stroke-width="0.8" />
<line x1="50.88" y1="44.72" x2="50.88" y2="41.22" stroke="#000" stroke-width="0.8" />
<line x1="50.08" y1="41.22" x2="51.68" y2="41.22" stroke="#000" stroke-width="0.8" />
<line x1="54.45" y1="44.79" x2="54.45" y2="41.29" stroke="#000" stroke-width="0.8" />
<line x1="53.65" y1="41.29" x2="55.25" y2="41.29" stroke="#000" stroke-width="0.8" />
<line x1="58.03" y1="44.04" x2="58.03" y2="40.54" stroke="#000" stroke-width="0.8" />
<line x1="57.23" y1="40.54" x2="58.83" y2="40.54" stroke="#000" stroke-width="0.8" />
<line x1="61.60" y1="43.08" x2="61.60" y2="39.58" stroke="#000" stroke-width="0.8" />
<line x1="60.80" y1="39.58" x2="62.40" y2="39.58" stroke="#000" stroke-width="0.8" />
<line x1="65.18" y1="42.15" x2="65.18" y2="38.65" stroke="#000" stroke-width="0.8" />
<line x1="64.38" y1="38.65" x2="65.98" y2="38.65" stroke="#000" stroke-width="0.8" />
<line x1="68.75" y1="41.60" x2="68.75" y2="38.10" stroke="#000" stroke-width="0.8" />
<line x1="67.95" y1="38.10" x2="69.55" y2="38.10" stroke="#000" stroke-width="0.8" />
<line x1="72.33" y1="41.30" x2="72.33" y2="37.80" stroke="#000" stroke-width="0.8" />
<line x1="71.53" y1="37.80" x2="73.13" y2="37.80" stroke="#000" stroke-width="0.8" />
<line x1="75.90" y1="41.58" x2="75.90" y2="38.08" stroke="#000" stroke-width="0.8" />
<line x1="75.10" y1="38.08" x2="76.70" y2="38.08" stroke="#000" stroke-width="0.8" />
<line x1="79.48" y1="42.31" x2="79.48" y2="38.81" stroke="#000" stroke-width="0.8" />
<line x1="78.68" y1="38.81" x2="80.28" y2="38.81" stroke="#000" stroke-width="0.8" />
<line x1="83.05" y1="43.48" x2="83.05" y2="39.98" stroke="#000" stroke-width="0.8" />
<line x1="82.25" y1="39.98" x2="83.85" y2="39.98" stroke="#000" stroke-width="0.8" />
<line x1="86.63" y1="45.39" x2="86.63" y2="41.89" stroke="#000" stroke-width="0.8" />
<line x1="85.83" y1="41.89" x2="87.43" y2="41.89" stroke="#000" stroke-width="0.8" />
<line x1="90.20" y1="47.38" x2="90.20" y2="43.88" stroke="#000" stroke-width="0.8" />
<line x1="89.40" y1="43.88" x2="91.00" y2="43.88" stroke="#000" stroke-width="0.8" />
<line x1="93.78" y1="49.53" x2="93.78" y2="46.03" stroke="#000" stroke-width="0.8" />
<line x1="92.98" y1="46.03" x2="94.58" y2="46.03" stroke="#000" stroke-width="0.8" />
<rect x="30.50" y="68.40" width="5.0" height="5.2" fill="#fff" stroke="#000" stroke-width="1.05"/>
<rect x="34.08" y="68.79" width="5.0" height="5.2" fill="#fff" stroke="#000" stroke-width="1.05"/>
<rect x="37.65" y="69.41" width="5.0" height="5.2" fill="#fff" stroke="#000" stroke-width="1.05"/>
<rect x="41.23" y="70.18" width="5.0" height="5.2" fill="#fff" stroke="#000" stroke-width="1.05"/>
<rect x="44.80" y="71.45" width="5.0" height="5.2" fill="#fff" stroke="#000" stroke-width="1.05"/>
<rect x="48.38" y="73.06" width="5.0" height="5.2" fill="#fff" stroke="#000" stroke-width="1.05"/>
<rect x="51.95" y="74.41" width="5.0" height="5.2" fill="#fff" stroke="#000" stroke-width="1.05"/>
<rect x="55.53" y="75.12" width="5.0" height="5.2" fill="#fff" stroke="#000" stroke-width="1.05"/>
<rect x="59.10" y="75.35" width="5.0" height="5.2" fill="#fff" stroke="#000" stroke-width="1.05"/>
<rect x="62.68" y="73.39" width="5.0" height="5.2" fill="#fff" stroke="#000" stroke-width="1.05"/>
<rect x="66.25" y="70.35" width="5.0" height="5.2" fill="#fff" stroke="#000" stroke-width="1.05"/>
<rect x="69.83" y="68.61" width="5.0" height="5.2" fill="#fff" stroke="#000" stroke-width="1.05"/>
<rect x="73.40" y="69.35" width="5.0" height="5.2" fill="#fff" stroke="#000" stroke-width="1.05"/>
<rect x="76.98" y="71.13" width="5.0" height="5.2" fill="#fff" stroke="#000" stroke-width="1.05"/>
<rect x="80.55" y="73.55" width="5.0" height="5.2" fill="#fff" stroke="#000" stroke-width="1.05"/>
<rect x="84.13" y="76.88" width="5.0" height="5.2" fill="#fff" stroke="#000" stroke-width="1.05"/>
<rect x="87.70" y="79.95" width="5.0" height="5.2" fill="#fff" stroke="#000" stroke-width="1.05"/>
<rect x="91.28" y="82.87" width="5.0" height="5.2" fill="#fff" stroke="#000" stroke-width="1.05"/>
<rect x="94.85" y="85.50" width="5.0" height="5.2" fill="#fff" stroke="#000" stroke-width="1.05"/>
<rect x="98.43" y="87.27" width="5.0" height="5.2" fill="#fff" stroke="#000" stroke-width="1.05"/>
<rect x="102.00" y="88.65" width="5.0" height="5.2" fill="#fff" stroke="#000" stroke-width="1.05"/>
<rect x="105.58" y="89.72" width="5.0" height="5.2" fill="#fff" stroke="#000" stroke-width="1.05"/>
<rect x="109.15" y="90.20" width="5.0" height="5.2" fill="#fff" stroke="#000" stroke-width="1.05"/>
<rect x="112.73" y="90.10" width="5.0" height="5.2" fill="#fff" stroke="#000" stroke-width="1.05"/>
<rect x="116.30" y="89.80" width="5.0" height="5.2" fill="#fff" stroke="#000" stroke-width="1.05"/>
<rect x="119.88" y="89.34" width="5.0" height="5.2" fill="#fff" stroke="#000" stroke-width="1.05"/>
<rect x="123.45" y="88.01" width="5.0" height="5.2" fill="#fff" stroke="#000" stroke-width="1.05"/>
<rect x="127.03" y="85.84" width="5.0" height="5.2" fill="#fff" stroke="#000" stroke-width="1.05"/>
<rect x="130.60" y="83.12" width="5.0" height="5.2" fill="#fff" stroke="#000" stroke-width="1.05"/>
<rect x="134.18" y="79.39" width="5.0" height="5.2" fill="#fff" stroke="#000" stroke-width="1.05"/>
<rect x="137.75" y="75.15" width="5.0" height="5.2" fill="#fff" stroke="#000" stroke-width="1.05"/>
<rect x="141.33" y="70.09" width="5.0" height="5.2" fill="#fff" stroke="#000" stroke-width="1.05"/>
<rect x="144.90" y="64.90" width="5.0" height="5.2" fill="#fff" stroke="#000" stroke-width="1.05"/>
<rect x="148.48" y="60.13" width="5.0" height="5.2" fill="#fff" stroke="#000" stroke-width="1.05"/>
<rect x="152.05" y="55.43" width="5.0" height="5.2" fill="#fff" stroke="#000" stroke-width="1.05"/>
<rect x="155.63" y="50.51" width="5.0" height="5.2" fill="#fff" stroke="#000" stroke-width="1.05"/>
<rect x="159.20" y="45.12" width="5.0" height="5.2" fill="#fff" stroke="#000" stroke-width="1.05"/>
<rect x="162.78" y="39.94" width="5.0" height="5.2" fill="#fff" stroke="#000" stroke-width="1.05"/>
<rect x="166.35" y="35.20" width="5.0" height="5.2" fill="#fff" stroke="#000" stroke-width="1.05"/>
<rect x="169.93" y="31.18" width="5.0" height="5.2" fill="#fff" stroke="#000" stroke-width="1.05"/>
<rect x="173.50" y="27.09" width="5.0" height="5.2" fill="#fff" stroke="#000" stroke-width="1.05"/>
<rect x="177.08" y="23.04" width="5.0" height="5.2" fill="#fff" stroke="#000" stroke-width="1.05"/>
<rect x="180.65" y="18.95" width="5.0" height="5.2" fill="#fff" stroke="#000" stroke-width="1.05"/>
<rect x="184.23" y="15.51" width="5.0" height="5.2" fill="#fff" stroke="#000" stroke-width="1.05"/>
<rect x="187.80" y="13.94" width="5.0" height="5.2" fill="#fff" stroke="#000" stroke-width="1.05"/>
<rect x="191.38" y="11.99" width="5.0" height="5.2" fill="#fff" stroke="#000" stroke-width="1.05"/>
<rect x="194.95" y="10.49" width="5.0" height="5.2" fill="#fff" stroke="#000" stroke-width="1.05"/>
<rect x="198.53" y="9.27" width="5.0" height="5.2" fill="#fff" stroke="#000" stroke-width="1.05"/>
<rect x="202.10" y="8.72" width="5.0" height="5.2" fill="#fff" stroke="#000" stroke-width="1.05"/>
<rect x="205.68" y="8.39" width="5.0" height="5.2" fill="#fff" stroke="#000" stroke-width="1.05"/>
<rect x="209.25" y="8.17" width="5.0" height="5.2" fill="#fff" stroke="#000" stroke-width="1.05"/>
<rect x="212.83" y="8.00" width="5.0" height="5.2" fill="#fff" stroke="#000" stroke-width="1.05"/>
<rect x="216.40" y="7.91" width="5.0" height="5.2" fill="#fff" stroke="#000" stroke-width="1.05"/>
<rect x="219.98" y="7.90" width="5.0" height="5.2" fill="#fff" stroke="#000" stroke-width="1.05"/>
<rect x="223.55" y="7.90" width="5.0" height="5.2" fill="#fff" stroke="#000" stroke-width="1.05"/>
<rect x="227.13" y="7.90" width="5.0" height="5.2" fill="#fff" stroke="#000" stroke-width="1.05"/>
<rect x="230.70" y="7.90" width="5.0" height="5.2" fill="#fff" stroke="#000" stroke-width="1.05"/>
<rect x="234.28" y="7.89" width="5.0" height="5.2" fill="#fff" stroke="#000" stroke-width="1.05"/>
<rect x="237.85" y="7.80" width="5.0" height="5.2" fill="#fff" stroke="#000" stroke-width="1.05"/>
<rect x="241.43" y="7.64" width="5.0" height="5.2" fill="#fff" stroke="#000" stroke-width="1.05"/>
<rect x="245.00" y="7.45" width="5.0" height="5.2" fill="#fff" stroke="#000" stroke-width="1.05"/>
<path d="M33.00,37.10 L36.10,40.40 L33.00,43.70 L29.90,40.40Z" fill="#000"/>
<path d="M36.58,39.98 L39.68,43.28 L36.58,46.58 L33.48,43.28Z" fill="#000"/>
<path d="M40.15,42.84 L43.25,46.14 L40.15,49.44 L37.05,46.14Z" fill="#000"/>
<path d="M43.73,45.69 L46.83,48.99 L43.73,52.29 L40.63,48.99Z" fill="#000"/>
<path d="M47.30,48.75 L50.40,52.05 L47.30,55.35 L44.20,52.05Z" fill="#000"/>
<path d="M50.88,52.28 L53.98,55.58 L50.88,58.88 L47.78,55.58Z" fill="#000"/>
<path d="M54.45,55.20 L57.55,58.50 L54.45,61.80 L51.35,58.50Z" fill="#000"/>
<path d="M58.03,56.41 L61.13,59.71 L58.03,63.01 L54.93,59.71Z" fill="#000"/>
<path d="M61.60,56.76 L64.70,60.06 L61.60,63.36 L58.50,60.06Z" fill="#000"/>
<path d="M65.18,56.98 L68.28,60.28 L65.18,63.58 L62.08,60.28Z" fill="#000"/>
<path d="M68.75,57.20 L71.85,60.50 L68.75,63.80 L65.65,60.50Z" fill="#000"/>
<path d="M72.33,57.35 L75.43,60.65 L72.33,63.95 L69.23,60.65Z" fill="#000"/>
<path d="M75.90,57.57 L79.00,60.87 L75.90,64.17 L72.80,60.87Z" fill="#000"/>
<path d="M79.48,58.57 L82.58,61.87 L79.48,65.17 L76.38,61.87Z" fill="#000"/>
<path d="M83.05,61.29 L86.15,64.59 L83.05,67.89 L79.95,64.59Z" fill="#000"/>
<path d="M86.63,63.66 L89.73,66.96 L86.63,70.26 L83.53,66.96Z" fill="#000"/>
<path d="M90.20,65.70 L93.30,69.00 L90.20,72.30 L87.10,69.00Z" fill="#000"/>
<path d="M93.78,67.83 L96.88,71.13 L93.78,74.43 L90.68,71.13Z" fill="#000"/>
<path d="M97.35,70.14 L100.45,73.44 L97.35,76.74 L94.25,73.44Z" fill="#000"/>
<path d="M100.93,72.34 L104.03,75.64 L100.93,78.94 L97.83,75.64Z" fill="#000"/>
<path d="M104.50,74.35 L107.60,77.65 L104.50,80.95 L101.40,77.65Z" fill="#000"/>
<path d="M108.08,76.34 L111.18,79.64 L108.08,82.94 L104.98,79.64Z" fill="#000"/>
<path d="M111.65,78.53 L114.75,81.83 L111.65,85.13 L108.55,81.83Z" fill="#000"/>
<path d="M115.23,78.98 L118.33,82.28 L115.23,85.58 L112.13,82.28Z" fill="#000"/>
<path d="M118.80,79.26 L121.90,82.56 L118.80,85.86 L115.70,82.56Z" fill="#000"/>
<path d="M122.38,79.39 L125.48,82.69 L122.38,85.99 L119.28,82.69Z" fill="#000"/>
<path d="M125.95,79.14 L129.05,82.44 L125.95,85.74 L122.85,82.44Z" fill="#000"/>
<path d="M129.53,77.76 L132.63,81.06 L129.53,84.36 L126.43,81.06Z" fill="#000"/>
<path d="M133.10,75.70 L136.20,79.00 L133.10,82.30 L130.00,79.00Z" fill="#000"/>
<path d="M136.68,72.62 L139.78,75.92 L136.68,79.22 L133.58,75.92Z" fill="#000"/>
<path d="M140.25,68.04 L143.35,71.34 L140.25,74.64 L137.15,71.34Z" fill="#000"/>
<path d="M143.83,63.25 L146.93,66.55 L143.83,69.85 L140.73,66.55Z" fill="#000"/>
<path d="M147.40,58.04 L150.50,61.34 L147.40,64.64 L144.30,61.34Z" fill="#000"/>
<path d="M150.98,52.77 L154.08,56.07 L150.98,59.37 L147.88,56.07Z" fill="#000"/>
<path d="M154.55,47.31 L157.65,50.61 L154.55,53.91 L151.45,50.61Z" fill="#000"/>
<path d="M158.13,42.06 L161.23,45.36 L158.13,48.66 L155.03,45.36Z" fill="#000"/>
<path d="M161.70,37.42 L164.80,40.72 L161.70,44.02 L158.60,40.72Z" fill="#000"/>
<path d="M165.28,33.19 L168.38,36.49 L165.28,39.79 L162.18,36.49Z" fill="#000"/>
<path d="M168.85,29.03 L171.95,32.33 L168.85,35.63 L165.75,32.33Z" fill="#000"/>
<path d="M172.43,24.71 L175.53,28.01 L172.43,31.31 L169.33,28.01Z" fill="#000"/>
<path d="M176.00,20.56 L179.10,23.86 L176.00,27.16 L172.90,23.86Z" fill="#000"/>
<path d="M179.58,17.05 L182.68,20.35 L179.58,23.65 L176.48,20.35Z" fill="#000"/>
<path d="M183.15,14.21 L186.25,17.51 L183.15,20.81 L180.05,17.51Z" fill="#000"/>
<path d="M186.73,11.64 L189.83,14.94 L186.73,18.24 L183.63,14.94Z" fill="#000"/>
<path d="M190.30,9.42 L193.40,12.72 L190.30,16.02 L187.20,12.72Z" fill="#000"/>
<path d="M193.88,7.65 L196.98,10.95 L193.88,14.25 L190.78,10.95Z" fill="#000"/>
<path d="M197.45,6.33 L200.55,9.63 L197.45,12.93 L194.35,9.63Z" fill="#000"/>
<path d="M201.03,5.21 L204.13,8.51 L201.03,11.81 L197.93,8.51Z" fill="#000"/>
<path d="M204.60,4.28 L207.70,7.58 L204.60,10.88 L201.50,7.58Z" fill="#000"/>
<path d="M208.18,3.52 L211.28,6.82 L208.18,10.12 L205.08,6.82Z" fill="#000"/>
<path d="M211.75,2.92 L214.85,6.22 L211.75,9.52 L208.65,6.22Z" fill="#000"/>
<path d="M215.33,2.41 L218.43,5.71 L215.33,9.01 L212.23,5.71Z" fill="#000"/>
<path d="M218.90,2.02 L222.00,5.32 L218.90,8.62 L215.80,5.32Z" fill="#000"/>
<path d="M222.48,1.76 L225.58,5.06 L222.48,8.36 L219.38,5.06Z" fill="#000"/>
<path d="M226.05,1.53 L229.15,4.83 L226.05,8.13 L222.95,4.83Z" fill="#000"/>
<path d="M229.63,1.31 L232.73,4.61 L229.63,7.91 L226.53,4.61Z" fill="#000"/>
<path d="M233.20,1.12 L236.30,4.42 L233.20,7.72 L230.10,4.42Z" fill="#000"/>
<path d="M236.78,0.96 L239.88,4.26 L236.78,7.56 L233.68,4.26Z" fill="#000"/>
<path d="M240.35,0.83 L243.45,4.13 L240.35,7.43 L237.25,4.13Z" fill="#000"/>
<path d="M243.93,0.74 L247.03,4.04 L243.93,7.34 L240.83,4.04Z" fill="#000"/>
<path d="M247.50,0.70 L250.60,4.00 L247.50,7.30 L244.40,4.00Z" fill="#000"/>
<path d="M33.00,45.80 L35.80,51.00 L30.20,51.00Z" fill="#fff" stroke="#000" stroke-width="1.0"/>
<path d="M36.58,43.58 L39.38,48.78 L33.78,48.78Z" fill="#fff" stroke="#000" stroke-width="1.0"/>
<path d="M40.15,43.50 L42.95,48.70 L37.35,48.70Z" fill="#fff" stroke="#000" stroke-width="1.0"/>
<path d="M43.73,43.50 L46.53,48.70 L40.93,48.70Z" fill="#fff" stroke="#000" stroke-width="1.0"/>
<path d="M47.30,43.55 L50.10,48.75 L44.50,48.75Z" fill="#fff" stroke="#000" stroke-width="1.0"/>
<path d="M50.88,43.72 L53.68,48.92 L48.08,48.92Z" fill="#fff" stroke="#000" stroke-width="1.0"/>
<path d="M54.45,43.79 L57.25,48.99 L51.65,48.99Z" fill="#fff" stroke="#000" stroke-width="1.0"/>
<path d="M58.03,43.04 L60.83,48.24 L55.23,48.24Z" fill="#fff" stroke="#000" stroke-width="1.0"/>
<path d="M61.60,42.08 L64.40,47.28 L58.80,47.28Z" fill="#fff" stroke="#000" stroke-width="1.0"/>
<path d="M65.18,41.15 L67.98,46.35 L62.38,46.35Z" fill="#fff" stroke="#000" stroke-width="1.0"/>
<path d="M68.75,40.60 L71.55,45.80 L65.95,45.80Z" fill="#fff" stroke="#000" stroke-width="1.0"/>
<path d="M72.33,40.30 L75.13,45.50 L69.53,45.50Z" fill="#fff" stroke="#000" stroke-width="1.0"/>
<path d="M75.90,40.58 L78.70,45.78 L73.10,45.78Z" fill="#fff" stroke="#000" stroke-width="1.0"/>
<path d="M79.48,41.31 L82.28,46.51 L76.68,46.51Z" fill="#fff" stroke="#000" stroke-width="1.0"/>
<path d="M83.05,42.48 L85.85,47.68 L80.25,47.68Z" fill="#fff" stroke="#000" stroke-width="1.0"/>
<path d="M86.63,44.39 L89.43,49.59 L83.83,49.59Z" fill="#fff" stroke="#000" stroke-width="1.0"/>
<path d="M90.20,46.38 L93.00,51.58 L87.40,51.58Z" fill="#fff" stroke="#000" stroke-width="1.0"/>
<path d="M93.78,48.53 L96.58,53.73 L90.98,53.73Z" fill="#fff" stroke="#000" stroke-width="1.0"/>
<path d="M97.35,50.69 L100.15,55.89 L94.55,55.89Z" fill="#fff" stroke="#000" stroke-width="1.0"/>
<path d="M100.93,52.39 L103.73,57.59 L98.13,57.59Z" fill="#fff" stroke="#000" stroke-width="1.0"/>
<path d="M104.50,53.96 L107.30,59.16 L101.70,59.16Z" fill="#fff" stroke="#000" stroke-width="1.0"/>
<path d="M108.08,55.41 L110.88,60.61 L105.28,60.61Z" fill="#fff" stroke="#000" stroke-width="1.0"/>
<path d="M111.65,56.47 L114.45,61.67 L108.85,61.67Z" fill="#fff" stroke="#000" stroke-width="1.0"/>
<path d="M115.23,56.90 L118.03,62.10 L112.43,62.10Z" fill="#fff" stroke="#000" stroke-width="1.0"/>
<path d="M118.80,56.71 L121.60,61.91 L116.00,61.91Z" fill="#fff" stroke="#000" stroke-width="1.0"/>
<path d="M122.38,56.19 L125.18,61.39 L119.58,61.39Z" fill="#fff" stroke="#000" stroke-width="1.0"/>
<path d="M125.95,55.44 L128.75,60.64 L123.15,60.64Z" fill="#fff" stroke="#000" stroke-width="1.0"/>
<path d="M129.53,54.25 L132.33,59.45 L126.73,59.45Z" fill="#fff" stroke="#000" stroke-width="1.0"/>
<path d="M133.10,52.01 L135.90,57.21 L130.30,57.21Z" fill="#fff" stroke="#000" stroke-width="1.0"/>
<path d="M136.68,49.31 L139.48,54.51 L133.88,54.51Z" fill="#fff" stroke="#000" stroke-width="1.0"/>
<path d="M140.25,46.72 L143.05,51.92 L137.45,51.92Z" fill="#fff" stroke="#000" stroke-width="1.0"/>
<path d="M143.83,44.03 L146.63,49.23 L141.03,49.23Z" fill="#fff" stroke="#000" stroke-width="1.0"/>
<path d="M147.40,41.24 L150.20,46.44 L144.60,46.44Z" fill="#fff" stroke="#000" stroke-width="1.0"/>
<path d="M150.98,38.52 L153.78,43.72 L148.18,43.72Z" fill="#fff" stroke="#000" stroke-width="1.0"/>
<path d="M154.55,35.89 L157.35,41.09 L151.75,41.09Z" fill="#fff" stroke="#000" stroke-width="1.0"/>
<path d="M158.13,33.15 L160.93,38.35 L155.33,38.35Z" fill="#fff" stroke="#000" stroke-width="1.0"/>
<path d="M161.70,30.03 L164.50,35.23 L158.90,35.23Z" fill="#fff" stroke="#000" stroke-width="1.0"/>
<path d="M165.28,26.27 L168.08,31.47 L162.48,31.47Z" fill="#fff" stroke="#000" stroke-width="1.0"/>
<path d="M168.85,23.57 L171.65,28.77 L166.05,28.77Z" fill="#fff" stroke="#000" stroke-width="1.0"/>
<path d="M172.43,20.60 L175.23,25.80 L169.63,25.80Z" fill="#fff" stroke="#000" stroke-width="1.0"/>
<path d="M176.00,17.45 L178.80,22.65 L173.20,22.65Z" fill="#fff" stroke="#000" stroke-width="1.0"/>
<path d="M179.58,14.75 L182.38,19.95 L176.78,19.95Z" fill="#fff" stroke="#000" stroke-width="1.0"/>
<path d="M183.15,12.12 L185.95,17.32 L180.35,17.32Z" fill="#fff" stroke="#000" stroke-width="1.0"/>
<path d="M186.73,10.74 L189.53,15.94 L183.93,15.94Z" fill="#fff" stroke="#000" stroke-width="1.0"/>
<path d="M190.30,9.82 L193.10,15.02 L187.50,15.02Z" fill="#fff" stroke="#000" stroke-width="1.0"/>
<path d="M193.88,9.21 L196.68,14.41 L191.08,14.41Z" fill="#fff" stroke="#000" stroke-width="1.0"/>
<path d="M197.45,8.76 L200.25,13.96 L194.65,13.96Z" fill="#fff" stroke="#000" stroke-width="1.0"/>
<path d="M201.03,8.40 L203.83,13.60 L198.23,13.60Z" fill="#fff" stroke="#000" stroke-width="1.0"/>
<path d="M204.60,8.04 L207.40,13.24 L201.80,13.24Z" fill="#fff" stroke="#000" stroke-width="1.0"/>
<path d="M208.18,7.68 L210.98,12.88 L205.38,12.88Z" fill="#fff" stroke="#000" stroke-width="1.0"/>
<path d="M211.75,7.33 L214.55,12.53 L208.95,12.53Z" fill="#fff" stroke="#000" stroke-width="1.0"/>
<path d="M215.33,6.99 L218.13,12.19 L212.53,12.19Z" fill="#fff" stroke="#000" stroke-width="1.0"/>
<path d="M218.90,6.62 L221.70,11.82 L216.10,11.82Z" fill="#fff" stroke="#000" stroke-width="1.0"/>
<path d="M222.48,6.15 L225.28,11.35 L219.68,11.35Z" fill="#fff" stroke="#000" stroke-width="1.0"/>
<path d="M226.05,5.54 L228.85,10.74 L223.25,10.74Z" fill="#fff" stroke="#000" stroke-width="1.0"/>
<path d="M229.63,5.01 L232.43,10.21 L226.83,10.21Z" fill="#fff" stroke="#000" stroke-width="1.0"/>
<path d="M233.20,4.80 L236.00,10.00 L230.40,10.00Z" fill="#fff" stroke="#000" stroke-width="1.0"/>
<path d="M236.78,5.15 L239.58,10.35 L233.98,10.35Z" fill="#fff" stroke="#000" stroke-width="1.0"/>
<path d="M240.35,5.76 L243.15,10.96 L237.55,10.96Z" fill="#fff" stroke="#000" stroke-width="1.0"/>
<path d="M243.93,6.52 L246.73,11.72 L241.13,11.72Z" fill="#fff" stroke="#000" stroke-width="1.0"/>
<path d="M247.50,7.49 L250.30,12.69 L244.70,12.69Z" fill="#fff" stroke="#000" stroke-width="1.0"/>
<circle cx="33.40" cy="71.00" r="2.5" fill="#fff" stroke="#000" stroke-width="1.1"/>
<circle cx="36.98" cy="64.95" r="2.5" fill="#fff" stroke="#000" stroke-width="1.1"/>
<circle cx="40.55" cy="61.75" r="2.5" fill="#fff" stroke="#000" stroke-width="1.1"/>
<circle cx="44.13" cy="58.65" r="2.5" fill="#fff" stroke="#000" stroke-width="1.1"/>
<circle cx="47.70" cy="57.45" r="2.5" fill="#fff" stroke="#000" stroke-width="1.1"/>
<circle cx="51.28" cy="56.40" r="2.5" fill="#fff" stroke="#000" stroke-width="1.1"/>
<circle cx="54.85" cy="55.09" r="2.5" fill="#fff" stroke="#000" stroke-width="1.1"/>
<circle cx="58.43" cy="53.72" r="2.5" fill="#fff" stroke="#000" stroke-width="1.1"/>
<circle cx="62.00" cy="52.26" r="2.5" fill="#fff" stroke="#000" stroke-width="1.1"/>
<circle cx="65.58" cy="51.02" r="2.5" fill="#fff" stroke="#000" stroke-width="1.1"/>
<circle cx="69.15" cy="49.87" r="2.5" fill="#fff" stroke="#000" stroke-width="1.1"/>
<circle cx="72.73" cy="49.07" r="2.5" fill="#fff" stroke="#000" stroke-width="1.1"/>
<circle cx="76.30" cy="49.12" r="2.5" fill="#fff" stroke="#000" stroke-width="1.1"/>
<circle cx="79.88" cy="49.67" r="2.5" fill="#fff" stroke="#000" stroke-width="1.1"/>
<circle cx="83.45" cy="50.47" r="2.5" fill="#fff" stroke="#000" stroke-width="1.1"/>
<circle cx="87.03" cy="51.33" r="2.5" fill="#fff" stroke="#000" stroke-width="1.1"/>
<circle cx="90.60" cy="52.53" r="2.5" fill="#fff" stroke="#000" stroke-width="1.1"/>
<circle cx="94.18" cy="53.84" r="2.5" fill="#fff" stroke="#000" stroke-width="1.1"/>
<circle cx="97.75" cy="54.60" r="2.5" fill="#fff" stroke="#000" stroke-width="1.1"/>
<circle cx="101.33" cy="55.03" r="2.5" fill="#fff" stroke="#000" stroke-width="1.1"/>
<circle cx="104.90" cy="55.38" r="2.5" fill="#fff" stroke="#000" stroke-width="1.1"/>
<circle cx="108.48" cy="55.62" r="2.5" fill="#fff" stroke="#000" stroke-width="1.1"/>
<circle cx="112.05" cy="55.70" r="2.5" fill="#fff" stroke="#000" stroke-width="1.1"/>
<circle cx="115.63" cy="55.52" r="2.5" fill="#fff" stroke="#000" stroke-width="1.1"/>
<circle cx="119.20" cy="55.08" r="2.5" fill="#fff" stroke="#000" stroke-width="1.1"/>
<circle cx="122.78" cy="54.48" r="2.5" fill="#fff" stroke="#000" stroke-width="1.1"/>
<circle cx="126.35" cy="53.73" r="2.5" fill="#fff" stroke="#000" stroke-width="1.1"/>
<circle cx="129.93" cy="52.54" r="2.5" fill="#fff" stroke="#000" stroke-width="1.1"/>
<circle cx="133.50" cy="50.40" r="2.5" fill="#fff" stroke="#000" stroke-width="1.1"/>
<circle cx="137.08" cy="47.25" r="2.5" fill="#fff" stroke="#000" stroke-width="1.1"/>
<circle cx="140.65" cy="44.29" r="2.5" fill="#fff" stroke="#000" stroke-width="1.1"/>
<circle cx="144.23" cy="41.43" r="2.5" fill="#fff" stroke="#000" stroke-width="1.1"/>
<circle cx="147.80" cy="38.45" r="2.5" fill="#fff" stroke="#000" stroke-width="1.1"/>
<circle cx="151.38" cy="35.14" r="2.5" fill="#fff" stroke="#000" stroke-width="1.1"/>
<circle cx="154.95" cy="31.89" r="2.5" fill="#fff" stroke="#000" stroke-width="1.1"/>
<circle cx="158.53" cy="29.22" r="2.5" fill="#fff" stroke="#000" stroke-width="1.1"/>
<circle cx="162.10" cy="26.76" r="2.5" fill="#fff" stroke="#000" stroke-width="1.1"/>
<circle cx="165.68" cy="24.11" r="2.5" fill="#fff" stroke="#000" stroke-width="1.1"/>
<circle cx="169.25" cy="20.58" r="2.5" fill="#fff" stroke="#000" stroke-width="1.1"/>
<circle cx="172.83" cy="18.04" r="2.5" fill="#fff" stroke="#000" stroke-width="1.1"/>
<circle cx="176.40" cy="14.95" r="2.5" fill="#fff" stroke="#000" stroke-width="1.1"/>
<circle cx="179.98" cy="11.82" r="2.5" fill="#fff" stroke="#000" stroke-width="1.1"/>
<circle cx="183.55" cy="9.81" r="2.5" fill="#fff" stroke="#000" stroke-width="1.1"/>
<circle cx="187.13" cy="7.77" r="2.5" fill="#fff" stroke="#000" stroke-width="1.1"/>
<circle cx="190.70" cy="6.96" r="2.5" fill="#fff" stroke="#000" stroke-width="1.1"/>
<circle cx="194.28" cy="6.42" r="2.5" fill="#fff" stroke="#000" stroke-width="1.1"/>
<circle cx="197.85" cy="5.92" r="2.5" fill="#fff" stroke="#000" stroke-width="1.1"/>
<circle cx="201.43" cy="5.81" r="2.5" fill="#fff" stroke="#000" stroke-width="1.1"/>
<circle cx="205.00" cy="5.91" r="2.5" fill="#fff" stroke="#000" stroke-width="1.1"/>
<circle cx="208.58" cy="6.09" r="2.5" fill="#fff" stroke="#000" stroke-width="1.1"/>
<circle cx="212.15" cy="6.47" r="2.5" fill="#fff" stroke="#000" stroke-width="1.1"/>
<circle cx="215.73" cy="7.03" r="2.5" fill="#fff" stroke="#000" stroke-width="1.1"/>
<circle cx="219.30" cy="7.85" r="2.5" fill="#fff" stroke="#000" stroke-width="1.1"/>
<circle cx="222.88" cy="9.16" r="2.5" fill="#fff" stroke="#000" stroke-width="1.1"/>
<circle cx="226.45" cy="10.00" r="2.5" fill="#fff" stroke="#000" stroke-width="1.1"/>
<circle cx="230.03" cy="10.94" r="2.5" fill="#fff" stroke="#000" stroke-width="1.1"/>
<circle cx="233.60" cy="12.45" r="2.5" fill="#fff" stroke="#000" stroke-width="1.1"/>
<circle cx="237.18" cy="13.94" r="2.5" fill="#fff" stroke="#000" stroke-width="1.1"/>
<circle cx="240.75" cy="15.11" r="2.5" fill="#fff" stroke="#000" stroke-width="1.1"/>
<circle cx="244.33" cy="15.92" r="2.5" fill="#fff" stroke="#000" stroke-width="1.1"/>
<circle cx="247.90" cy="16.45" r="2.5" fill="#fff" stroke="#000" stroke-width="1.1"/>
<text x="262.20" y="12.00" font-size="11" font-weight="bold" text-anchor="start" fill="#000" >B</text>
<line x1="293.60" y1="7.00" x2="293.60" y2="175.30" stroke="#000" stroke-width="1.3" />
<line x1="293.00" y1="175.10" x2="517.60" y2="175.10" stroke="#000" stroke-width="1.3" />
<line x1="291.20" y1="7.50" x2="293.60" y2="7.50" stroke="#000" stroke-width="1.1" />
<text x="286.70" y="9.80" font-size="6.8" font-weight="bold" text-anchor="end" fill="#000" >0</text>
<line x1="291.20" y1="49.38" x2="293.60" y2="49.38" stroke="#000" stroke-width="1.1" />
<text x="286.70" y="51.67" font-size="6.8" font-weight="bold" text-anchor="end" fill="#000" >5</text>
<line x1="291.20" y1="91.25" x2="293.60" y2="91.25" stroke="#000" stroke-width="1.1" />
<text x="286.70" y="93.55" font-size="6.8" font-weight="bold" text-anchor="end" fill="#000" >10</text>
<line x1="291.20" y1="133.12" x2="293.60" y2="133.12" stroke="#000" stroke-width="1.1" />
<text x="286.70" y="135.43" font-size="6.8" font-weight="bold" text-anchor="end" fill="#000" >15</text>
<line x1="291.20" y1="175.00" x2="293.60" y2="175.00" stroke="#000" stroke-width="1.1" />
<text x="286.70" y="177.30" font-size="6.8" font-weight="bold" text-anchor="end" fill="#000" >20</text>
<line x1="300.20" y1="110.00" x2="300.20" y2="57.00" stroke="#000" stroke-width="1.4" />
<line x1="299.20" y1="57.00" x2="301.20" y2="57.00" stroke="#000" stroke-width="1.2" />
<rect x="294.90" y="110.00" width="10.60" height="65.10" fill="#b3b3b3" stroke="#111" stroke-width="1.3"/>
<text x="300.40" y="142.00" font-size="7.0" font-weight="bold" text-anchor="middle" fill="#000" >1</text>
<line x1="326.55" y1="123.00" x2="326.55" y2="68.00" stroke="#000" stroke-width="1.4" />
<line x1="325.55" y1="68.00" x2="327.55" y2="68.00" stroke="#000" stroke-width="1.2" />
<rect x="321.25" y="123.00" width="10.60" height="52.10" fill="#b3b3b3" stroke="#111" stroke-width="1.3"/>
<text x="326.75" y="142.00" font-size="7.0" font-weight="bold" text-anchor="middle" fill="#000" >2</text>
<line x1="352.90" y1="105.00" x2="352.90" y2="32.50" stroke="#000" stroke-width="1.4" />
<line x1="351.90" y1="32.50" x2="353.90" y2="32.50" stroke="#000" stroke-width="1.2" />
<rect x="347.60" y="105.00" width="10.60" height="70.10" fill="#b3b3b3" stroke="#111" stroke-width="1.3"/>
<text x="353.10" y="142.00" font-size="7.0" font-weight="bold" text-anchor="middle" fill="#000" >3</text>
<line x1="379.25" y1="103.00" x2="379.25" y2="32.00" stroke="#000" stroke-width="1.4" />
<line x1="378.25" y1="32.00" x2="380.25" y2="32.00" stroke="#000" stroke-width="1.2" />
<rect x="373.95" y="103.00" width="10.60" height="72.10" fill="#b3b3b3" stroke="#111" stroke-width="1.3"/>
<text x="379.45" y="142.00" font-size="7.0" font-weight="bold" text-anchor="middle" fill="#000" >4</text>
<line x1="405.60" y1="105.00" x2="405.60" y2="38.75" stroke="#000" stroke-width="1.4" />
<line x1="404.60" y1="38.75" x2="406.60" y2="38.75" stroke="#000" stroke-width="1.2" />
<rect x="400.30" y="105.00" width="10.60" height="70.10" fill="#b3b3b3" stroke="#111" stroke-width="1.3"/>
<text x="405.80" y="142.00" font-size="7.0" font-weight="bold" text-anchor="middle" fill="#000" >5</text>
<line x1="431.95" y1="166.75" x2="431.95" y2="111.00" stroke="#000" stroke-width="1.4" />
<line x1="430.95" y1="111.00" x2="432.95" y2="111.00" stroke="#000" stroke-width="1.2" />
<rect x="426.65" y="166.75" width="10.60" height="8.35" fill="#b3b3b3" stroke="#111" stroke-width="1.3"/>
<text x="432.15" y="142.00" font-size="7.0" font-weight="bold" text-anchor="middle" fill="#000" >6</text>
<line x1="458.30" y1="110.50" x2="458.30" y2="54.50" stroke="#000" stroke-width="1.4" />
<line x1="457.30" y1="54.50" x2="459.30" y2="54.50" stroke="#000" stroke-width="1.2" />
<rect x="453.00" y="110.50" width="10.60" height="64.60" fill="#b3b3b3" stroke="#111" stroke-width="1.3"/>
<text x="458.50" y="142.00" font-size="7.0" font-weight="bold" text-anchor="middle" fill="#000" >7</text>
<line x1="484.65" y1="116.00" x2="484.65" y2="44.50" stroke="#000" stroke-width="1.4" />
<line x1="483.65" y1="44.50" x2="485.65" y2="44.50" stroke="#000" stroke-width="1.2" />
<rect x="479.35" y="116.00" width="10.60" height="59.10" fill="#b3b3b3" stroke="#111" stroke-width="1.3"/>
<text x="484.85" y="142.00" font-size="7.0" font-weight="bold" text-anchor="middle" fill="#000" >8</text>
<line x1="511.00" y1="104.50" x2="511.00" y2="33.00" stroke="#000" stroke-width="1.4" />
<line x1="510.00" y1="33.00" x2="512.00" y2="33.00" stroke="#000" stroke-width="1.2" />
<rect x="505.70" y="104.50" width="10.60" height="70.60" fill="#b3b3b3" stroke="#111" stroke-width="1.3"/>
<text x="511.20" y="142.00" font-size="7.0" font-weight="bold" text-anchor="middle" fill="#000" >9</text>
<text x="399.70" y="185.80" font-size="7.4" font-weight="bold" text-anchor="middle" fill="#000" textLength="39.4" lengthAdjust="spacingAndGlyphs" >Polyanions</text>
<text transform="translate(271.8,93.6) rotate(-90)" font-size="7.3" font-weight="bold" text-anchor="middle" textLength="50" lengthAdjust="spacingAndGlyphs">Lag-time (min)</text>
<text x="0.60" y="208.30" font-size="11.2" font-weight="bold" text-anchor="start" fill="#000" >C</text>
<line x1="30.40" y1="202.30" x2="30.40" y2="373.80" stroke="#000" stroke-width="1.3" />
<line x1="29.80" y1="373.60" x2="253.20" y2="373.60" stroke="#000" stroke-width="1.3" />
<line x1="28.00" y1="373.50" x2="30.40" y2="373.50" stroke="#000" stroke-width="1.1" />
<text x="23.80" y="375.80" font-size="6.8" font-weight="bold" text-anchor="end" fill="#000" >0</text>
<line x1="28.00" y1="339.45" x2="30.40" y2="339.45" stroke="#000" stroke-width="1.1" />
<text x="23.80" y="341.75" font-size="6.8" font-weight="bold" text-anchor="end" fill="#000" >20</text>
<line x1="28.00" y1="305.40" x2="30.40" y2="305.40" stroke="#000" stroke-width="1.1" />
<text x="23.80" y="307.70" font-size="6.8" font-weight="bold" text-anchor="end" fill="#000" >40</text>
<line x1="28.00" y1="271.35" x2="30.40" y2="271.35" stroke="#000" stroke-width="1.1" />
<text x="23.80" y="273.65" font-size="6.8" font-weight="bold" text-anchor="end" fill="#000" >60</text>
<line x1="28.00" y1="237.30" x2="30.40" y2="237.30" stroke="#000" stroke-width="1.1" />
<text x="23.80" y="239.60" font-size="6.8" font-weight="bold" text-anchor="end" fill="#000" >80</text>
<line x1="28.00" y1="203.25" x2="30.40" y2="203.25" stroke="#000" stroke-width="1.1" />
<text x="23.80" y="205.55" font-size="6.8" font-weight="bold" text-anchor="end" fill="#000" >100</text>
<rect x="31.90" y="214.60" width="10.60" height="159.00" fill="#adadad" stroke="#2a2a2a" stroke-width="1.2"/>
<text x="37.20" y="296.10" font-size="6.9" font-weight="bold" text-anchor="middle" fill="#000" >1</text>
<rect x="58.13" y="224.60" width="10.60" height="149.00" fill="#adadad" stroke="#2a2a2a" stroke-width="1.2"/>
<text x="63.43" y="296.10" font-size="6.9" font-weight="bold" text-anchor="middle" fill="#000" >2</text>
<rect x="84.36" y="220.40" width="10.60" height="153.20" fill="#adadad" stroke="#2a2a2a" stroke-width="1.2"/>
<text x="89.66" y="296.10" font-size="6.9" font-weight="bold" text-anchor="middle" fill="#000" >3</text>
<rect x="110.59" y="220.40" width="10.60" height="153.20" fill="#adadad" stroke="#2a2a2a" stroke-width="1.2"/>
<text x="115.89" y="296.10" font-size="6.9" font-weight="bold" text-anchor="middle" fill="#000" >4</text>
<rect x="136.82" y="220.40" width="10.60" height="153.20" fill="#adadad" stroke="#2a2a2a" stroke-width="1.2"/>
<text x="142.12" y="296.10" font-size="6.9" font-weight="bold" text-anchor="middle" fill="#000" >5</text>
<rect x="163.05" y="259.70" width="10.60" height="113.90" fill="#adadad" stroke="#2a2a2a" stroke-width="1.2"/>
<text x="168.35" y="296.10" font-size="6.9" font-weight="bold" text-anchor="middle" fill="#000" >6</text>
<rect x="189.28" y="220.40" width="10.60" height="153.20" fill="#adadad" stroke="#2a2a2a" stroke-width="1.2"/>
<text x="194.58" y="296.10" font-size="6.9" font-weight="bold" text-anchor="middle" fill="#000" >7</text>
<rect x="215.51" y="228.70" width="10.60" height="144.90" fill="#adadad" stroke="#2a2a2a" stroke-width="1.2"/>
<text x="220.81" y="296.10" font-size="6.9" font-weight="bold" text-anchor="middle" fill="#000" >8</text>
<rect x="241.74" y="231.70" width="10.60" height="141.90" fill="#adadad" stroke="#2a2a2a" stroke-width="1.2"/>
<text x="247.04" y="296.10" font-size="6.9" font-weight="bold" text-anchor="middle" fill="#000" >9</text>
<text x="141.80" y="385.60" font-size="7.4" font-weight="bold" text-anchor="middle" fill="#000" textLength="39.4" lengthAdjust="spacingAndGlyphs" >Polyanions</text>
<text transform="translate(7.6,291.8) rotate(-90)" font-size="7.9" font-weight="normal" text-anchor="middle" textLength="71.7" lengthAdjust="spacingAndGlyphs">Reactive donors (%)</text>
<text x="262.20" y="208.20" font-size="11" font-weight="bold" text-anchor="start" fill="#000" >D</text>
<line x1="293.00" y1="201.60" x2="293.00" y2="351.90" stroke="#000" stroke-width="1.3" />
<line x1="292.40" y1="351.70" x2="518.50" y2="351.70" stroke="#000" stroke-width="1.3" />
<line x1="290.60" y1="351.50" x2="293.00" y2="351.50" stroke="#000" stroke-width="1.1" />
<text x="288.50" y="354.00" font-size="7.0" font-weight="bold" text-anchor="end" fill="#000" >0</text>
<line x1="290.60" y1="314.18" x2="293.00" y2="314.18" stroke="#000" stroke-width="1.1" />
<text x="288.50" y="316.68" font-size="7.0" font-weight="bold" text-anchor="end" fill="#000" >0.4</text>
<line x1="290.60" y1="276.86" x2="293.00" y2="276.86" stroke="#000" stroke-width="1.1" />
<text x="288.50" y="279.36" font-size="7.0" font-weight="bold" text-anchor="end" fill="#000" >0.8</text>
<line x1="290.60" y1="239.54" x2="293.00" y2="239.54" stroke="#000" stroke-width="1.1" />
<text x="288.50" y="242.04" font-size="7.0" font-weight="bold" text-anchor="end" fill="#000" >1.2</text>
<line x1="290.60" y1="202.22" x2="293.00" y2="202.22" stroke="#000" stroke-width="1.1" />
<text x="288.50" y="204.72" font-size="7.0" font-weight="bold" text-anchor="end" fill="#000" >1.6</text>
<line x1="293.00" y1="295.5" x2="518.5" y2="295.5" stroke="#000" stroke-width="1.3" stroke-dasharray="4.5 3" stroke-dashoffset="-1.5"/>
<line x1="309.70" y1="311.90" x2="309.70" y2="305.90" stroke="#000" stroke-width="1.2" />
<line x1="308.20" y1="305.90" x2="311.20" y2="305.90" stroke="#000" stroke-width="1.2" />
<rect x="304.70" y="311.90" width="10.20" height="39.80" fill="#000"/>
<line x1="332.60" y1="314.70" x2="332.60" y2="302.40" stroke="#000" stroke-width="1.2" />
<line x1="331.10" y1="302.40" x2="334.10" y2="302.40" stroke="#000" stroke-width="1.2" />
<rect x="327.60" y="314.70" width="10.20" height="37.00" fill="#808080"/>
<line x1="354.95" y1="250.50" x2="354.95" y2="237.50" stroke="#000" stroke-width="1.2" />
<line x1="353.45" y1="237.50" x2="356.45" y2="237.50" stroke="#000" stroke-width="1.2" />
<rect x="349.95" y="250.50" width="10.20" height="101.20" fill="#000"/>
<line x1="377.85" y1="296.20" x2="377.85" y2="279.50" stroke="#000" stroke-width="1.2" />
<line x1="376.35" y1="279.50" x2="379.35" y2="279.50" stroke="#000" stroke-width="1.2" />
<rect x="372.85" y="296.20" width="10.20" height="55.50" fill="#808080"/>
<line x1="400.20" y1="275.50" x2="400.20" y2="264.50" stroke="#000" stroke-width="1.2" />
<line x1="398.70" y1="264.50" x2="401.70" y2="264.50" stroke="#000" stroke-width="1.2" />
<rect x="395.20" y="275.50" width="10.20" height="76.20" fill="#000"/>
<line x1="423.10" y1="292.70" x2="423.10" y2="273.20" stroke="#000" stroke-width="1.2" />
<line x1="421.60" y1="273.20" x2="424.60" y2="273.20" stroke="#000" stroke-width="1.2" />
<rect x="418.10" y="292.70" width="10.20" height="59.00" fill="#808080"/>
<line x1="445.45" y1="267.00" x2="445.45" y2="251.00" stroke="#000" stroke-width="1.2" />
<line x1="443.95" y1="251.00" x2="446.95" y2="251.00" stroke="#000" stroke-width="1.2" />
<rect x="440.45" y="267.00" width="10.20" height="84.70" fill="#000"/>
<line x1="468.35" y1="310.00" x2="468.35" y2="304.30" stroke="#000" stroke-width="1.2" />
<line x1="466.85" y1="304.30" x2="469.85" y2="304.30" stroke="#000" stroke-width="1.2" />
<rect x="463.35" y="310.00" width="10.20" height="41.70" fill="#808080"/>
<line x1="490.70" y1="246.30" x2="490.70" y2="232.50" stroke="#000" stroke-width="1.2" />
<line x1="489.20" y1="232.50" x2="492.20" y2="232.50" stroke="#000" stroke-width="1.2" />
<rect x="485.70" y="246.30" width="10.20" height="105.40" fill="#000"/>
<line x1="513.60" y1="295.00" x2="513.60" y2="278.00" stroke="#000" stroke-width="1.2" />
<line x1="512.10" y1="278.00" x2="515.10" y2="278.00" stroke="#000" stroke-width="1.2" />
<rect x="508.60" y="295.00" width="10.20" height="56.70" fill="#808080"/>
<text x="302.10" y="365.40" font-size="7.15" font-weight="bold" text-anchor="start" fill="#000" >15mer-DNA</text>
<text x="302.10" y="373.90" font-size="7.15" font-weight="bold" text-anchor="start" fill="#000" >thrombin</text>
<text x="302.10" y="382.40" font-size="7.15" font-weight="bold" text-anchor="start" fill="#000" >aptamer</text>
<text x="346.80" y="365.40" font-size="7.15" font-weight="bold" text-anchor="start" fill="#000" >44mer-DNA</text>
<text x="346.80" y="373.90" font-size="7.15" font-weight="bold" text-anchor="start" fill="#000" >protein C</text>
<text x="346.80" y="382.40" font-size="7.15" font-weight="bold" text-anchor="start" fill="#000" >aptamer</text>
<text x="394.40" y="365.40" font-size="7.15" font-weight="bold" text-anchor="start" fill="#000" >57mer-RNA</text>
<text x="394.40" y="373.90" font-size="7.15" font-weight="bold" text-anchor="start" fill="#000" >tetracycline</text>
<text x="394.40" y="382.40" font-size="7.15" font-weight="bold" text-anchor="start" fill="#000" >aptamer</text>
<text x="439.40" y="365.40" font-size="7.15" font-weight="bold" text-anchor="start" fill="#000" >77mer-RNA</text>
<text x="439.40" y="373.90" font-size="7.15" font-weight="bold" text-anchor="start" fill="#000" >FMN aptamer</text>
<text x="489.40" y="365.40" font-size="7.15" font-weight="bold" text-anchor="start" fill="#000" >heparin</text>
<text transform="translate(273.9,279.9) rotate(-90)" font-size="7.6" font-weight="normal" text-anchor="middle" xml:space="preserve">Absorbance  (450 nm)</text>
<text x="135.20" y="408.20" font-size="11" font-weight="bold" text-anchor="start" fill="#000" >E</text>
<line x1="176.80" y1="403.00" x2="176.80" y2="547.00" stroke="#000" stroke-width="1.3" />
<line x1="176.20" y1="546.60" x2="385.60" y2="546.60" stroke="#000" stroke-width="1.8" />
<line x1="174.40" y1="546.60" x2="176.80" y2="546.60" stroke="#000" stroke-width="1.1" />
<text x="171.50" y="548.90" font-size="6.8" font-weight="bold" text-anchor="end" fill="#000" >0</text>
<line x1="174.40" y1="498.70" x2="176.80" y2="498.70" stroke="#000" stroke-width="1.1" />
<text x="171.50" y="501.00" font-size="6.8" font-weight="bold" text-anchor="end" fill="#000" >1</text>
<line x1="174.40" y1="450.80" x2="176.80" y2="450.80" stroke="#000" stroke-width="1.1" />
<text x="171.50" y="453.10" font-size="6.8" font-weight="bold" text-anchor="end" fill="#000" >2</text>
<line x1="174.40" y1="402.90" x2="176.80" y2="402.90" stroke="#000" stroke-width="1.1" />
<text x="171.50" y="405.20" font-size="6.8" font-weight="bold" text-anchor="end" fill="#000" >3</text>
<line x1="229.30" y1="404.40" x2="229.30" y2="546.60" stroke="#000" stroke-width="1.3" />
<line x1="281.90" y1="404.40" x2="281.90" y2="546.60" stroke="#000" stroke-width="1.3" />
<line x1="333.80" y1="404.40" x2="333.80" y2="546.60" stroke="#000" stroke-width="1.3" />
<line x1="385.40" y1="404.40" x2="385.40" y2="546.60" stroke="#000" stroke-width="1.3" />
<text transform="translate(154.8,474) rotate(-90)" font-size="7.6" font-weight="normal" text-anchor="middle" xml:space="preserve">Absorbance  (450 nm)</text>
<path d="M194.50,419.00 L197.50,422.00 L194.50,425.00 L191.50,422.00Z" fill="#000"/>
<path d="M194.50,420.50 L197.50,423.50 L194.50,426.50 L191.50,423.50Z" fill="#000"/>
<path d="M194.50,429.00 L197.50,432.00 L194.50,435.00 L191.50,432.00Z" fill="#000"/>
<path d="M194.50,437.75 L197.50,440.75 L194.50,443.75 L191.50,440.75Z" fill="#000"/>
<path d="M194.50,450.00 L197.50,453.00 L194.50,456.00 L191.50,453.00Z" fill="#000"/>
<line x1="187.00" y1="435.00" x2="203.80" y2="435.00" stroke="#000" stroke-width="1.4" />
<path d="M212.00,512.85 L214.90,515.75 L212.00,518.65 L209.10,515.75Z" fill="#fff" stroke="#000" stroke-width="0.9"/>
<path d="M212.00,522.10 L214.90,525.00 L212.00,527.90 L209.10,525.00Z" fill="#fff" stroke="#000" stroke-width="0.9"/>
<path d="M212.00,529.60 L214.90,532.50 L212.00,535.40 L209.10,532.50Z" fill="#fff" stroke="#000" stroke-width="0.9"/>
<path d="M212.00,534.60 L214.90,537.50 L212.00,540.40 L209.10,537.50Z" fill="#fff" stroke="#000" stroke-width="0.9"/>
<line x1="203.80" y1="525.50" x2="220.00" y2="525.50" stroke="#000" stroke-width="1.4" />
<path d="M246.50,423.00 L249.50,426.00 L246.50,429.00 L243.50,426.00Z" fill="#000"/>
<path d="M246.50,456.60 L249.50,459.60 L246.50,462.60 L243.50,459.60Z" fill="#000"/>
<path d="M246.50,494.70 L249.50,497.70 L246.50,500.70 L243.50,497.70Z" fill="#000"/>
<path d="M246.50,513.20 L249.50,516.20 L246.50,519.20 L243.50,516.20Z" fill="#000"/>
<path d="M246.50,515.20 L249.50,518.20 L246.50,521.20 L243.50,518.20Z" fill="#000"/>
<path d="M246.50,528.30 L249.50,531.30 L246.50,534.30 L243.50,531.30Z" fill="#000"/>
<line x1="239.20" y1="506.20" x2="255.60" y2="506.20" stroke="#000" stroke-width="1.4" />
<path d="M263.70,539.00 L266.60,541.90 L263.70,544.80 L260.80,541.90Z" fill="#fff" stroke="#000" stroke-width="0.9"/>
<line x1="256.00" y1="541.30" x2="272.00" y2="541.30" stroke="#000" stroke-width="1.4" />
<path d="M298.30,477.00 L301.30,480.00 L298.30,483.00 L295.30,480.00Z" fill="#000"/>
<path d="M298.30,532.80 L301.30,535.80 L298.30,538.80 L295.30,535.80Z" fill="#000"/>
<path d="M298.30,535.00 L301.30,538.00 L298.30,541.00 L295.30,538.00Z" fill="#000"/>
<path d="M298.30,537.50 L301.30,540.50 L298.30,543.50 L295.30,540.50Z" fill="#000"/>
<path d="M298.30,539.00 L301.30,542.00 L298.30,545.00 L295.30,542.00Z" fill="#000"/>
<line x1="290.20" y1="536.70" x2="307.00" y2="536.70" stroke="#000" stroke-width="1.4" />
<path d="M315.60,539.60 L318.50,542.50 L315.60,545.40 L312.70,542.50Z" fill="#fff" stroke="#000" stroke-width="0.9"/>
<line x1="308.80" y1="543.00" x2="324.60" y2="543.00" stroke="#000" stroke-width="1.4" />
<path d="M350.40,441.40 L353.40,444.40 L350.40,447.40 L347.40,444.40Z" fill="#000"/>
<path d="M350.40,445.30 L353.40,448.30 L350.40,451.30 L347.40,448.30Z" fill="#000"/>
<path d="M350.40,460.70 L353.40,463.70 L350.40,466.70 L347.40,463.70Z" fill="#000"/>
<path d="M350.40,474.90 L353.40,477.90 L350.40,480.90 L347.40,477.90Z" fill="#000"/>
<path d="M350.40,491.40 L353.40,494.40 L350.40,497.40 L347.40,494.40Z" fill="#000"/>
<line x1="344.00" y1="463.70" x2="360.00" y2="463.70" stroke="#000" stroke-width="1.4" />
<path d="M367.70,530.00 L370.60,532.90 L367.70,535.80 L364.80,532.90Z" fill="#fff" stroke="#000" stroke-width="0.9"/>
<path d="M367.70,535.10 L370.60,538.00 L367.70,540.90 L364.80,538.00Z" fill="#fff" stroke="#000" stroke-width="0.9"/>
<line x1="360.40" y1="537.10" x2="376.30" y2="537.10" stroke="#000" stroke-width="1.4" />
<line x1="176.20" y1="551.50" x2="386.00" y2="551.50" stroke="#000" stroke-width="1.3" />
<line x1="176.20" y1="570.40" x2="386.00" y2="570.40" stroke="#000" stroke-width="1.3" />
<line x1="176.20" y1="591.00" x2="386.00" y2="591.00" stroke="#000" stroke-width="1.3" />
<line x1="176.80" y1="551.50" x2="176.80" y2="591.30" stroke="#000" stroke-width="1.3" />
<line x1="229.30" y1="551.50" x2="229.30" y2="591.30" stroke="#000" stroke-width="1.3" />
<line x1="281.90" y1="551.50" x2="281.90" y2="591.30" stroke="#000" stroke-width="1.3" />
<line x1="333.80" y1="551.50" x2="333.80" y2="591.30" stroke="#000" stroke-width="1.3" />
<line x1="385.40" y1="551.50" x2="385.40" y2="591.30" stroke="#000" stroke-width="1.3" />
<text x="173.20" y="560.20" font-size="7.0" font-weight="bold" text-anchor="end" fill="#000" textLength="38" lengthAdjust="spacingAndGlyphs" >Immunized</text>
<text x="172.60" y="569.00" font-size="7.0" font-weight="bold" text-anchor="end" fill="#000" >with:</text>
<text x="173.20" y="579.00" font-size="7.0" font-weight="bold" text-anchor="end" fill="#000" >Tested</text>
<text x="173.20" y="587.80" font-size="7.0" font-weight="bold" text-anchor="end" fill="#000" >against:</text>
<text x="203.05" y="560.60" font-size="7.0" font-weight="bold" text-anchor="middle" fill="#000" textLength="49" lengthAdjust="spacingAndGlyphs" >mPF4/ aptamer</text>
<text x="203.05" y="568.20" font-size="7.0" font-weight="bold" text-anchor="middle" fill="#000" >complex</text>
<text x="203.05" y="579.70" font-size="7.0" font-weight="bold" text-anchor="middle" fill="#000" textLength="49" lengthAdjust="spacingAndGlyphs" >mPF4/ aptamer</text>
<text x="203.05" y="588.40" font-size="7.0" font-weight="bold" text-anchor="middle" fill="#000" >complex</text>
<text x="255.60" y="563.30" font-size="7.0" font-weight="bold" text-anchor="middle" fill="#000" >mPF4</text>
<text x="255.60" y="579.70" font-size="7.0" font-weight="bold" text-anchor="middle" fill="#000" textLength="49" lengthAdjust="spacingAndGlyphs" >mPF4/ aptamer</text>
<text x="255.60" y="588.40" font-size="7.0" font-weight="bold" text-anchor="middle" fill="#000" >complex</text>
<text x="307.85" y="563.30" font-size="7.0" font-weight="bold" text-anchor="middle" fill="#000" >aptamer</text>
<text x="307.85" y="579.70" font-size="7.0" font-weight="bold" text-anchor="middle" fill="#000" textLength="49" lengthAdjust="spacingAndGlyphs" >mPF4/ aptamer</text>
<text x="307.85" y="588.40" font-size="7.0" font-weight="bold" text-anchor="middle" fill="#000" >complex</text>
<text x="359.60" y="560.60" font-size="7.0" font-weight="bold" text-anchor="middle" fill="#000" textLength="49" lengthAdjust="spacingAndGlyphs" >mPF4/ aptamer</text>
<text x="359.60" y="568.20" font-size="7.0" font-weight="bold" text-anchor="middle" fill="#000" >complex</text>
<text x="359.60" y="579.70" font-size="7.0" font-weight="bold" text-anchor="middle" fill="#000" >mPF4/ heparin</text>
<text x="359.60" y="588.40" font-size="7.0" font-weight="bold" text-anchor="middle" fill="#000" >complex</text>
</svg>
</body></html>
